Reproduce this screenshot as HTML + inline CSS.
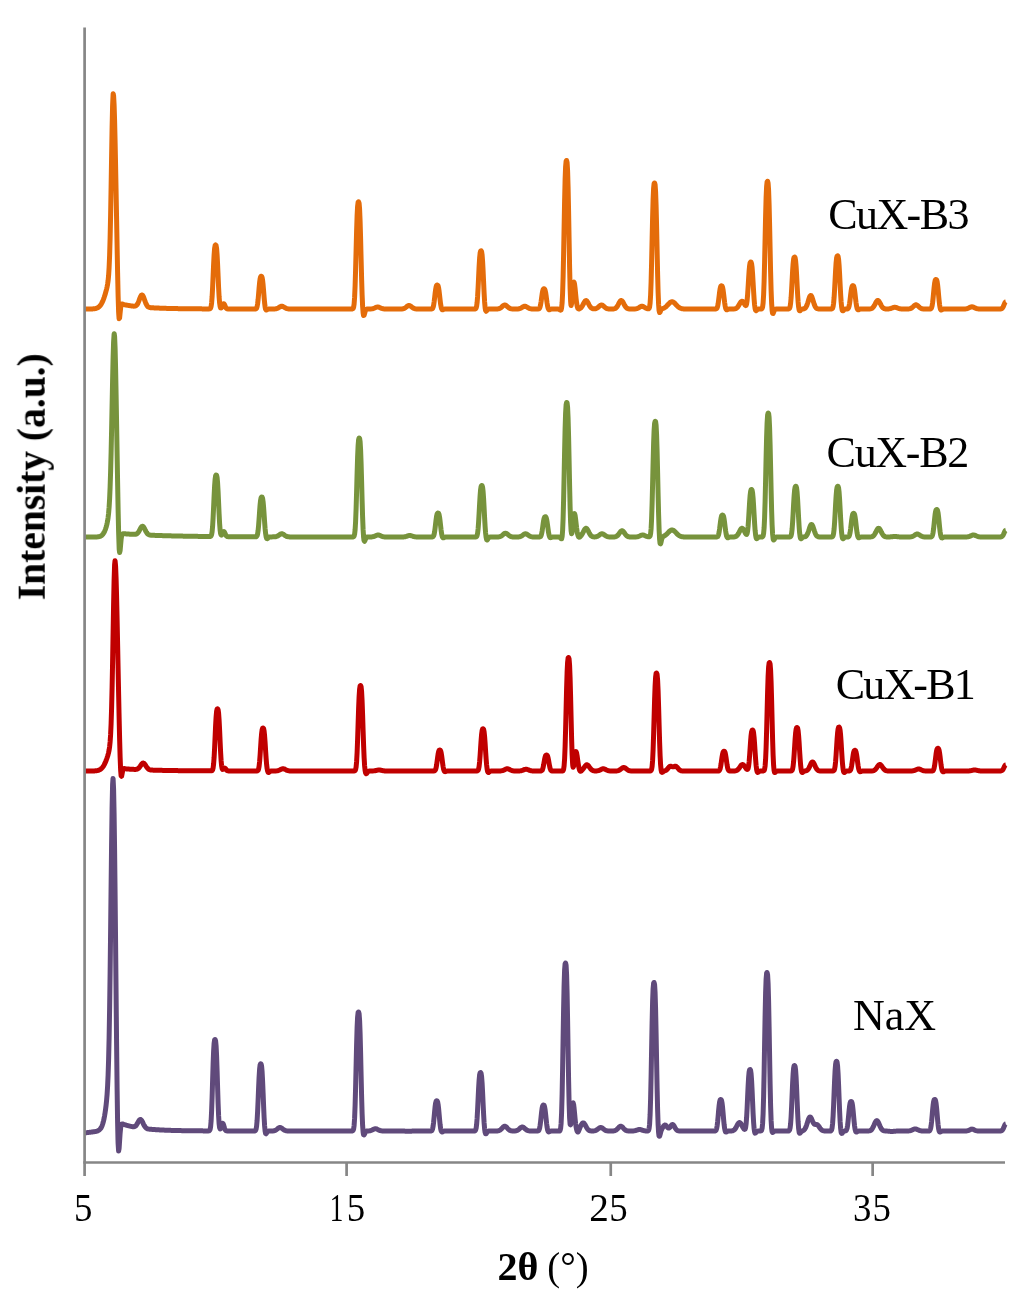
<!DOCTYPE html>
<html><head><meta charset="utf-8"><title>XRD patterns</title>
<style>html,body{margin:0;padding:0;background:#fff;overflow:hidden;}svg{display:block;} text{will-change:transform;}</style></head>
<body><svg width="1024" height="1299" viewBox="0 0 1024 1299">
<rect width="1024" height="1299" fill="#fff"/>
<path d="M84.6,309.00 L85.1,309.00 L85.6,309.00 L86.1,309.00 L86.6,309.00 L87.1,309.00 L87.6,309.00 L88.1,308.99 L88.6,308.99 L89.1,308.99 L89.6,308.98 L90.1,308.98 L90.6,308.97 L91.1,308.96 L91.6,308.95 L92.1,308.93 L92.6,308.90 L93.1,308.87 L93.6,308.83 L94.1,308.78 L94.6,308.71 L95.1,308.62 L95.6,308.52 L96.1,308.38 L96.6,308.22 L97.1,308.02 L97.6,307.78 L98.1,307.49 L98.6,307.14 L99.1,306.73 L99.6,306.25 L100.1,305.69 L100.6,305.04 L101.1,304.29 L101.6,303.44 L102.1,302.49 L102.6,301.43 L103.1,300.25 L103.6,298.96 L104.1,297.56 L104.6,296.05 L105.1,294.45 L105.6,292.75 L106.1,290.94 L106.6,289.01 L107.1,286.84 L107.6,284.22 L108.1,280.70 L108.6,275.55 L109.1,267.67 L109.6,255.73 L110.1,238.48 L110.6,215.36 L111.1,187.14 L111.6,156.40 L112.1,127.40 L112.6,105.24 L113.1,94.38 L113.2,93.75 L113.6,95.69 L114.1,104.95 L114.6,120.92 L115.1,142.01 L115.6,166.41 L116.1,192.56 L116.6,219.46 L117.1,246.54 L117.6,272.73 L118.1,295.57 L118.6,311.63 L118.8,314.73 L119.1,318.76 L119.6,317.97 L120.1,313.07 L120.6,308.16 L121.1,305.23 L121.6,304.12 L122.1,303.97 L122.6,304.13 L123.1,304.34 L123.6,304.51 L124.1,304.65 L124.6,304.77 L125.1,304.87 L125.6,304.97 L126.1,305.06 L126.6,305.15 L127.1,305.24 L127.6,305.32 L128.1,305.40 L128.6,305.49 L129.1,305.56 L129.6,305.64 L130.1,305.72 L130.6,305.79 L131.1,305.86 L131.6,305.93 L132.1,305.99 L132.6,306.05 L133.1,306.10 L133.6,306.13 L134.1,306.14 L134.6,306.11 L135.1,306.03 L135.6,305.86 L136.1,305.58 L136.6,305.16 L137.1,304.56 L137.6,303.78 L138.1,302.79 L138.6,301.63 L139.1,300.33 L139.6,298.97 L140.1,297.66 L140.6,296.51 L141.1,295.62 L141.6,295.11 L142.0,295.00 L142.1,295.02 L142.6,295.37 L143.1,296.13 L143.6,297.22 L144.1,298.54 L144.6,299.97 L145.1,301.40 L145.6,302.74 L146.1,303.93 L146.6,304.92 L147.1,305.72 L147.6,306.33 L148.1,306.78 L148.6,307.10 L149.1,307.33 L149.6,307.48 L150.1,307.58 L150.6,307.66 L151.1,307.71 L151.6,307.75 L152.1,307.79 L152.6,307.82 L153.1,307.84 L153.6,307.87 L154.1,307.90 L154.6,307.92 L155.1,307.95 L155.6,307.97 L156.1,307.99 L156.6,308.02 L157.1,308.04 L157.6,308.06 L158.1,308.08 L158.6,308.10 L159.1,308.12 L159.6,308.14 L160.1,308.16 L160.6,308.18 L161.1,308.20 L161.6,308.22 L162.1,308.23 L162.6,308.25 L163.1,308.27 L163.6,308.28 L164.1,308.30 L164.6,308.32 L165.1,308.33 L165.6,308.35 L166.1,308.36 L166.6,308.38 L167.1,308.39 L167.6,308.40 L168.1,308.42 L168.6,308.43 L169.1,308.44 L169.6,308.45 L170.1,308.47 L170.6,308.48 L171.1,308.49 L171.6,308.50 L172.1,308.51 L172.6,308.52 L173.1,308.53 L173.6,308.55 L174.1,308.56 L174.6,308.57 L175.1,308.58 L175.6,308.58 L176.1,308.59 L176.6,308.60 L177.1,308.61 L177.6,308.62 L178.1,308.63 L178.6,308.64 L179.1,308.65 L179.6,308.65 L180.1,308.66 L180.6,308.67 L181.1,308.68 L181.6,308.68 L182.1,308.69 L182.6,308.70 L183.1,308.70 L183.6,308.71 L184.1,308.72 L184.6,308.72 L185.1,308.73 L185.6,308.74 L186.1,308.74 L186.6,308.75 L187.1,308.75 L187.6,308.76 L188.1,308.76 L188.6,308.77 L189.1,308.78 L189.6,308.78 L190.1,308.79 L190.6,308.79 L191.1,308.79 L191.6,308.80 L192.1,308.80 L192.6,308.81 L193.1,308.81 L193.6,308.82 L194.1,308.82 L194.6,308.83 L195.1,308.83 L195.6,308.83 L196.1,308.84 L196.6,308.84 L197.1,308.84 L197.6,308.85 L198.1,308.85 L198.6,308.85 L199.1,308.86 L199.6,308.86 L200.1,308.86 L200.6,308.87 L201.1,308.87 L201.6,308.87 L202.1,308.88 L202.6,308.88 L203.1,308.88 L203.6,308.88 L204.1,308.89 L204.6,308.89 L205.1,308.89 L205.6,308.89 L206.1,308.90 L206.6,308.90 L207.1,308.90 L207.6,308.90 L208.1,308.91 L208.6,308.91 L209.1,308.90 L209.6,308.86 L210.1,308.68 L210.6,308.09 L211.1,306.50 L211.6,303.02 L212.1,296.78 L212.6,287.55 L213.1,276.20 L213.6,264.62 L214.1,254.92 L214.6,248.50 L215.1,245.55 L215.6,245.00 L216.1,245.55 L216.6,248.51 L217.1,254.93 L217.6,264.63 L218.1,276.22 L218.6,287.57 L219.1,296.80 L219.6,303.01 L220.1,306.41 L220.6,307.82 L221.1,308.01 L221.6,307.47 L222.1,306.48 L222.6,305.28 L223.1,304.23 L223.6,303.72 L223.7,303.70 L224.1,303.94 L224.6,304.82 L225.1,306.01 L225.6,307.15 L226.1,308.00 L226.6,308.52 L227.1,308.79 L227.6,308.90 L228.1,308.94 L228.6,308.96 L229.1,308.96 L229.6,308.96 L230.1,308.97 L230.6,308.97 L231.1,308.97 L231.6,308.97 L232.1,308.97 L232.6,308.97 L233.1,308.97 L233.6,308.97 L234.1,308.97 L234.6,308.97 L235.1,308.97 L235.6,308.97 L236.1,308.97 L236.6,308.97 L237.1,308.97 L237.6,308.98 L238.1,308.98 L238.6,308.98 L239.1,308.98 L239.6,308.98 L240.1,308.98 L240.6,308.98 L241.1,308.98 L241.6,308.98 L242.1,308.98 L242.6,308.98 L243.1,308.98 L243.6,308.98 L244.1,308.98 L244.6,308.98 L245.1,308.98 L245.6,308.98 L246.1,308.98 L246.6,308.98 L247.1,308.98 L247.6,308.98 L248.1,308.98 L248.6,308.98 L249.1,308.99 L249.6,308.99 L250.1,308.99 L250.6,308.99 L251.1,308.99 L251.6,308.99 L252.1,308.99 L252.6,308.99 L253.1,308.99 L253.6,308.99 L254.1,308.99 L254.6,308.99 L255.1,308.97 L255.6,308.91 L256.1,308.70 L256.6,308.08 L257.1,306.63 L257.6,303.90 L258.1,299.61 L258.6,294.04 L259.1,288.02 L259.6,282.67 L260.1,278.84 L260.6,276.82 L261.1,276.26 L261.2,276.25 L261.6,276.36 L262.1,277.44 L262.6,280.21 L263.1,284.84 L263.6,290.84 L264.1,297.21 L264.6,302.85 L265.1,306.92 L265.5,308.88 L265.6,309.20 L266.1,310.01 L266.6,309.95 L267.1,309.60 L267.6,309.29 L268.1,309.11 L268.6,309.03 L269.1,309.00 L269.6,309.00 L270.1,308.99 L270.6,308.99 L271.1,308.99 L271.6,308.99 L272.1,308.99 L272.6,308.99 L273.1,308.98 L273.6,308.97 L274.1,308.96 L274.6,308.93 L275.1,308.89 L275.6,308.83 L276.1,308.74 L276.6,308.61 L277.1,308.44 L277.6,308.23 L278.1,307.97 L278.6,307.68 L279.1,307.36 L279.6,307.05 L280.1,306.75 L280.6,306.51 L281.1,306.33 L281.6,306.25 L281.8,306.25 L282.1,306.27 L282.6,306.39 L283.1,306.60 L283.6,306.86 L284.1,307.17 L284.6,307.49 L285.1,307.80 L285.6,308.08 L286.1,308.32 L286.6,308.52 L287.1,308.67 L287.6,308.78 L288.1,308.86 L288.6,308.91 L289.1,308.95 L289.6,308.97 L290.1,308.98 L290.6,308.99 L291.1,308.99 L291.6,309.00 L292.1,309.00 L292.6,309.00 L293.1,309.00 L293.6,309.00 L294.1,309.00 L294.6,309.00 L295.1,309.00 L295.6,309.00 L296.1,309.00 L296.6,309.00 L297.1,309.00 L297.6,309.00 L298.1,309.00 L298.6,309.00 L299.1,309.00 L299.6,309.00 L300.1,309.00 L300.6,309.00 L301.1,309.00 L301.6,309.00 L302.1,309.00 L302.6,309.00 L303.1,309.00 L303.6,309.00 L304.1,309.00 L304.6,309.00 L305.1,309.00 L305.6,309.00 L306.1,309.00 L306.6,309.00 L307.1,309.00 L307.6,309.00 L308.1,309.00 L308.6,309.00 L309.1,309.00 L309.6,309.00 L310.1,309.00 L310.6,309.00 L311.1,309.00 L311.6,309.00 L312.1,309.00 L312.6,309.00 L313.1,309.00 L313.6,309.00 L314.1,309.00 L314.6,309.00 L315.1,309.00 L315.6,309.00 L316.1,309.00 L316.6,309.00 L317.1,309.00 L317.6,309.00 L318.1,309.00 L318.6,309.00 L319.1,309.00 L319.6,309.00 L320.1,309.00 L320.6,309.00 L321.1,309.00 L321.6,309.00 L322.1,309.00 L322.6,309.00 L323.1,309.00 L323.6,309.00 L324.1,309.00 L324.6,309.00 L325.1,309.00 L325.6,309.00 L326.1,309.00 L326.6,309.00 L327.1,309.00 L327.6,309.00 L328.1,309.00 L328.6,309.00 L329.1,309.00 L329.6,309.00 L330.1,309.00 L330.6,309.00 L331.1,309.00 L331.6,309.00 L332.1,309.00 L332.6,309.00 L333.1,309.00 L333.6,309.00 L334.1,309.00 L334.6,309.00 L335.1,309.00 L335.6,309.00 L336.1,309.00 L336.6,309.00 L337.1,309.00 L337.6,309.00 L338.1,309.00 L338.6,309.00 L339.1,309.00 L339.6,309.00 L340.1,309.00 L340.6,309.00 L341.1,309.00 L341.6,309.00 L342.1,309.00 L342.6,309.00 L343.1,309.00 L343.6,309.00 L344.1,309.00 L344.6,309.00 L345.1,309.00 L345.6,309.00 L346.1,309.00 L346.6,309.00 L347.1,309.00 L347.6,309.00 L348.1,309.00 L348.6,309.00 L349.1,309.00 L349.6,309.00 L350.1,309.00 L350.6,309.00 L351.1,309.00 L351.6,309.00 L352.1,308.98 L352.6,308.88 L353.1,308.49 L353.6,307.26 L354.1,304.08 L354.6,297.41 L355.1,285.93 L355.6,269.54 L356.1,250.14 L356.6,231.06 L357.1,215.76 L357.6,206.21 L358.1,202.26 L358.5,201.75 L358.6,201.76 L359.1,203.27 L359.6,209.31 L360.1,221.32 L360.6,238.65 L361.1,258.77 L361.6,278.32 L362.1,294.53 L362.6,306.05 L363.1,312.81 L363.5,315.24 L363.6,315.50 L364.1,315.28 L364.6,313.56 L365.1,311.63 L365.6,310.23 L366.1,309.47 L366.6,309.14 L367.1,309.04 L367.6,309.01 L368.1,309.00 L368.6,309.00 L369.1,308.99 L369.6,308.99 L370.1,308.97 L370.6,308.95 L371.1,308.92 L371.6,308.88 L372.1,308.81 L372.6,308.72 L373.1,308.60 L373.6,308.44 L374.1,308.25 L374.6,308.04 L375.1,307.81 L375.6,307.58 L376.1,307.36 L376.6,307.19 L377.1,307.06 L377.6,307.00 L377.8,307.00 L378.1,307.02 L378.6,307.10 L379.1,307.25 L379.6,307.45 L380.1,307.67 L380.6,307.90 L381.1,308.13 L381.6,308.33 L382.1,308.51 L382.6,308.65 L383.1,308.76 L383.6,308.84 L384.1,308.90 L384.6,308.94 L385.1,308.96 L385.6,308.98 L386.1,308.99 L386.6,308.99 L387.1,309.00 L387.6,309.00 L388.1,309.00 L388.6,309.00 L389.1,309.00 L389.6,309.00 L390.1,309.00 L390.6,309.00 L391.1,309.00 L391.6,309.00 L392.1,309.00 L392.6,309.00 L393.1,309.00 L393.6,309.00 L394.1,309.00 L394.6,309.00 L395.1,309.00 L395.6,309.00 L396.1,309.00 L396.6,309.00 L397.1,309.00 L397.6,309.00 L398.1,309.00 L398.6,309.00 L399.1,309.00 L399.6,308.99 L400.1,308.99 L400.6,308.98 L401.1,308.97 L401.6,308.94 L402.1,308.90 L402.6,308.83 L403.1,308.73 L403.6,308.60 L404.1,308.41 L404.6,308.16 L405.1,307.86 L405.6,307.51 L406.1,307.12 L406.6,306.71 L407.1,306.32 L407.6,305.97 L408.1,305.70 L408.6,305.54 L409.0,305.50 L409.1,305.50 L409.6,305.59 L410.1,305.80 L410.6,306.10 L411.1,306.47 L411.6,306.88 L412.1,307.28 L412.6,307.66 L413.1,307.99 L413.6,308.27 L414.1,308.49 L414.6,308.66 L415.1,308.78 L415.6,308.86 L416.1,308.92 L416.6,308.95 L417.1,308.97 L417.6,308.99 L418.1,308.99 L418.6,309.00 L419.1,309.00 L419.6,309.00 L420.1,309.00 L420.6,309.00 L421.1,309.00 L421.6,309.00 L422.1,309.00 L422.6,309.00 L423.1,309.00 L423.6,309.00 L424.1,309.00 L424.6,309.00 L425.1,309.00 L425.6,309.00 L426.1,309.00 L426.6,309.00 L427.1,309.00 L427.6,309.00 L428.1,309.00 L428.6,309.00 L429.1,309.00 L429.6,309.00 L430.1,309.00 L430.6,309.00 L431.1,308.99 L431.6,308.94 L432.1,308.78 L432.6,308.33 L433.1,307.27 L433.6,305.27 L434.1,302.12 L434.6,298.04 L435.1,293.63 L435.6,289.70 L436.1,286.90 L436.6,285.42 L437.1,285.01 L437.2,285.00 L437.6,285.08 L438.1,285.86 L438.6,287.87 L439.1,291.20 L439.6,295.48 L440.1,299.98 L440.6,303.98 L441.1,306.96 L441.6,308.80 L442.1,309.61 L442.1,309.66 L442.6,309.84 L443.1,309.67 L443.6,309.40 L444.1,309.19 L444.6,309.07 L445.1,309.02 L445.6,309.01 L446.1,309.00 L446.6,309.00 L447.1,309.00 L447.6,309.00 L448.1,309.00 L448.6,309.00 L449.1,309.00 L449.6,309.00 L450.1,309.00 L450.6,309.00 L451.1,309.00 L451.6,309.00 L452.1,309.00 L452.6,309.00 L453.1,309.00 L453.6,309.00 L454.1,309.00 L454.6,309.00 L455.1,309.00 L455.6,309.00 L456.1,309.00 L456.6,309.00 L457.1,309.00 L457.6,309.00 L458.1,309.00 L458.6,309.00 L459.1,309.00 L459.6,309.00 L460.1,309.00 L460.6,309.00 L461.1,309.00 L461.6,309.00 L462.1,309.00 L462.6,309.00 L463.1,309.00 L463.6,309.00 L464.1,309.00 L464.6,309.00 L465.1,309.00 L465.6,309.00 L466.1,309.00 L466.6,309.00 L467.1,309.00 L467.6,309.00 L468.1,309.00 L468.6,309.00 L469.1,309.00 L469.6,309.00 L470.1,309.00 L470.6,309.00 L471.1,309.00 L471.6,309.00 L472.1,309.00 L472.6,309.00 L473.1,309.00 L473.6,309.00 L474.1,309.00 L474.6,308.99 L475.1,308.94 L475.6,308.73 L476.1,308.06 L476.6,306.33 L477.1,302.71 L477.6,296.47 L478.1,287.57 L478.6,277.03 L479.1,266.67 L479.6,258.36 L480.1,253.17 L480.6,251.03 L481.0,250.75 L481.1,250.76 L481.6,251.58 L482.1,254.88 L482.6,261.45 L483.1,270.97 L483.6,282.08 L484.1,292.88 L484.6,301.67 L485.1,307.53 L485.5,310.10 L485.6,310.49 L486.1,311.26 L486.6,310.85 L487.1,310.11 L487.6,309.53 L488.1,309.20 L488.6,309.06 L489.1,309.02 L489.6,309.00 L490.1,309.00 L490.6,309.00 L491.1,309.00 L491.6,309.00 L492.1,309.00 L492.6,309.00 L493.1,309.00 L493.6,309.00 L494.1,309.00 L494.6,309.00 L495.1,309.00 L495.6,308.99 L496.1,308.98 L496.6,308.97 L497.1,308.95 L497.6,308.91 L498.1,308.85 L498.6,308.76 L499.1,308.62 L499.6,308.44 L500.1,308.19 L500.6,307.88 L501.1,307.51 L501.6,307.08 L502.1,306.62 L502.6,306.16 L503.1,305.73 L503.6,305.37 L504.1,305.12 L504.6,305.01 L504.8,305.00 L505.1,305.04 L505.6,305.21 L506.1,305.50 L506.6,305.89 L507.1,306.34 L507.6,306.81 L508.1,307.26 L508.6,307.66 L509.1,308.01 L509.6,308.30 L510.1,308.52 L510.6,308.68 L511.1,308.80 L511.6,308.88 L512.1,308.93 L512.6,308.96 L513.1,308.98 L513.6,308.99 L514.1,308.99 L514.6,309.00 L515.1,309.00 L515.6,308.99 L516.1,308.99 L516.6,308.98 L517.1,308.96 L517.6,308.94 L518.1,308.90 L518.6,308.83 L519.1,308.74 L519.6,308.61 L520.1,308.44 L520.6,308.23 L521.1,307.97 L521.6,307.68 L522.1,307.36 L522.6,307.05 L523.1,306.75 L523.6,306.51 L524.1,306.33 L524.6,306.25 L524.8,306.25 L525.1,306.27 L525.6,306.39 L526.1,306.60 L526.6,306.87 L527.1,307.17 L527.6,307.49 L528.1,307.80 L528.6,308.08 L529.1,308.32 L529.6,308.52 L530.1,308.67 L530.6,308.78 L531.1,308.86 L531.6,308.91 L532.1,308.95 L532.6,308.97 L533.1,308.98 L533.6,308.99 L534.1,309.00 L534.6,309.00 L535.1,309.00 L535.6,309.00 L536.1,309.00 L536.6,309.00 L537.1,309.00 L537.6,309.00 L538.1,308.98 L538.6,308.90 L539.1,308.67 L539.6,308.07 L540.1,306.81 L540.6,304.64 L541.1,301.55 L541.6,297.89 L542.1,294.28 L542.6,291.40 L543.1,289.59 L543.6,288.85 L544.0,288.75 L544.1,288.75 L544.6,289.04 L545.1,290.18 L545.6,292.45 L546.1,295.72 L546.6,299.51 L547.1,303.17 L547.6,306.15 L548.1,308.19 L548.6,309.31 L548.8,309.54 L549.1,309.71 L549.6,309.67 L550.1,309.46 L550.6,309.25 L551.1,309.11 L551.6,309.04 L552.1,309.01 L552.6,309.00 L553.1,309.00 L553.6,309.00 L554.1,309.00 L554.6,309.00 L555.1,309.00 L555.6,309.00 L556.1,309.00 L556.6,309.00 L557.1,309.00 L557.6,309.01 L558.1,309.05 L558.6,309.13 L559.1,309.33 L559.6,309.64 L560.1,310.01 L560.6,310.20 L561.0,309.93 L561.1,309.75 L561.6,307.85 L562.1,303.07 L562.6,293.46 L563.1,277.29 L563.6,254.46 L564.1,227.52 L564.6,201.09 L565.1,179.90 L565.6,166.67 L566.1,161.20 L566.5,160.50 L566.6,160.52 L567.1,162.61 L567.6,171.02 L568.1,187.75 L568.6,211.95 L569.1,240.03 L569.6,266.94 L570.1,288.09 L570.6,300.96 L570.9,304.59 L571.1,305.50 L571.6,303.63 L572.1,298.12 L572.6,291.59 L573.1,286.05 L573.6,282.75 L573.9,282.10 L574.1,282.24 L574.6,284.43 L575.1,288.59 L575.6,293.67 L576.1,298.64 L576.6,302.78 L577.1,305.80 L577.6,307.70 L577.9,308.38 L578.1,308.67 L578.6,309.01 L579.1,308.96 L579.6,308.74 L580.1,308.43 L580.6,308.06 L581.1,307.59 L581.6,307.00 L582.1,306.27 L582.6,305.43 L583.1,304.49 L583.6,303.51 L584.1,302.57 L584.6,301.73 L585.1,301.09 L585.6,300.70 L586.0,300.60 L586.1,300.61 L586.6,300.82 L587.1,301.32 L587.6,302.05 L588.1,302.94 L588.6,303.91 L589.1,304.87 L589.6,305.78 L590.1,306.58 L590.6,307.24 L591.1,307.77 L591.6,308.17 L592.1,308.46 L592.6,308.65 L593.1,308.78 L593.6,308.84 L594.1,308.86 L594.6,308.85 L595.1,308.79 L595.6,308.69 L596.1,308.53 L596.6,308.32 L597.1,308.04 L597.6,307.70 L598.1,307.30 L598.6,306.85 L599.1,306.39 L599.6,305.94 L600.1,305.54 L600.6,305.23 L601.1,305.05 L601.5,305.00 L601.6,305.00 L602.1,305.11 L602.6,305.34 L603.1,305.69 L603.6,306.11 L604.1,306.57 L604.6,307.03 L605.1,307.47 L605.6,307.85 L606.1,308.16 L606.6,308.42 L607.1,308.61 L607.6,308.74 L608.1,308.84 L608.6,308.90 L609.1,308.94 L609.6,308.97 L610.1,308.98 L610.6,308.99 L611.1,308.99 L611.6,308.99 L612.1,308.98 L612.6,308.97 L613.1,308.94 L613.6,308.89 L614.1,308.81 L614.6,308.68 L615.1,308.48 L615.6,308.20 L616.1,307.80 L616.6,307.28 L617.1,306.62 L617.6,305.83 L618.1,304.92 L618.6,303.94 L619.1,302.96 L619.6,302.05 L620.1,301.29 L620.6,300.76 L621.1,300.51 L621.2,300.50 L621.6,300.58 L622.1,300.94 L622.6,301.57 L623.1,302.40 L623.6,303.35 L624.1,304.34 L624.6,305.29 L625.1,306.16 L625.6,306.90 L626.1,307.51 L626.6,307.98 L627.1,308.32 L627.6,308.57 L628.1,308.74 L628.6,308.84 L629.1,308.91 L629.6,308.95 L630.1,308.97 L630.6,308.99 L631.1,308.99 L631.6,309.00 L632.1,309.00 L632.6,309.00 L633.1,308.99 L633.6,308.99 L634.1,308.97 L634.6,308.95 L635.1,308.92 L635.6,308.87 L636.1,308.79 L636.6,308.68 L637.1,308.53 L637.6,308.34 L638.1,308.11 L638.6,307.83 L639.1,307.52 L639.6,307.20 L640.1,306.89 L640.6,306.62 L641.1,306.41 L641.6,306.28 L642.0,306.25 L642.1,306.25 L642.6,306.32 L643.1,306.49 L643.6,306.72 L644.1,307.02 L644.6,307.33 L645.1,307.65 L645.6,307.95 L646.1,308.21 L646.6,308.43 L647.1,308.60 L647.6,308.73 L648.1,308.80 L648.6,308.75 L649.1,308.34 L649.6,306.92 L650.1,303.20 L650.6,295.38 L651.1,281.89 L651.6,262.64 L652.1,239.84 L652.6,217.44 L653.1,199.46 L653.6,188.24 L654.1,183.60 L654.5,183.00 L654.6,183.01 L655.1,184.79 L655.6,191.91 L656.1,206.09 L656.6,226.59 L657.1,250.42 L657.6,273.44 L658.1,292.04 L658.6,304.38 L659.0,309.84 L659.1,310.67 L659.6,312.52 L660.1,311.99 L660.6,310.76 L661.1,309.72 L661.6,309.10 L662.1,308.77 L662.6,308.57 L663.1,308.40 L663.6,308.20 L664.1,307.97 L664.6,307.69 L665.1,307.36 L665.6,306.98 L666.1,306.56 L666.6,306.09 L667.1,305.58 L667.6,305.04 L668.1,304.49 L668.6,303.95 L669.1,303.43 L669.6,302.94 L670.1,302.52 L670.6,302.18 L671.1,301.93 L671.6,301.79 L672.0,301.75 L672.1,301.75 L672.6,301.83 L673.1,302.02 L673.6,302.31 L674.1,302.68 L674.6,303.13 L675.1,303.63 L675.6,304.16 L676.1,304.71 L676.6,305.26 L677.1,305.78 L677.6,306.28 L678.1,306.73 L678.6,307.14 L679.1,307.50 L679.6,307.81 L680.1,308.07 L680.6,308.28 L681.1,308.45 L681.6,308.59 L682.1,308.70 L682.6,308.78 L683.1,308.85 L683.6,308.89 L684.1,308.93 L684.6,308.95 L685.1,308.97 L685.6,308.98 L686.1,308.99 L686.6,308.99 L687.1,308.99 L687.6,309.00 L688.1,309.00 L688.6,309.00 L689.1,309.00 L689.6,309.00 L690.1,309.00 L690.6,309.00 L691.1,309.00 L691.6,309.00 L692.1,309.00 L692.6,309.00 L693.1,309.00 L693.6,309.00 L694.1,309.00 L694.6,309.00 L695.1,309.00 L695.6,309.00 L696.1,309.00 L696.6,309.00 L697.1,309.00 L697.6,309.00 L698.1,309.00 L698.6,309.00 L699.1,309.00 L699.6,309.00 L700.1,309.00 L700.6,309.00 L701.1,309.00 L701.6,309.00 L702.1,309.00 L702.6,309.00 L703.1,309.00 L703.6,309.00 L704.1,309.00 L704.6,309.00 L705.1,309.00 L705.6,309.00 L706.1,309.00 L706.6,309.00 L707.1,309.00 L707.6,309.00 L708.1,309.00 L708.6,309.00 L709.1,309.00 L709.6,309.00 L710.1,309.00 L710.6,309.00 L711.1,309.00 L711.6,309.00 L712.1,309.00 L712.6,309.00 L713.1,309.00 L713.6,309.00 L714.1,309.00 L714.6,309.00 L715.1,309.00 L715.6,308.97 L716.1,308.89 L716.6,308.62 L717.1,307.93 L717.6,306.49 L718.1,304.00 L718.6,300.45 L719.1,296.24 L719.6,292.10 L720.1,288.79 L720.6,286.72 L721.1,285.86 L721.5,285.75 L721.6,285.75 L722.1,286.08 L722.6,287.39 L723.1,289.99 L723.6,293.75 L724.1,298.11 L724.6,302.31 L725.1,305.73 L725.6,308.07 L726.1,309.35 L726.3,309.62 L726.6,309.81 L727.1,309.77 L727.6,309.53 L728.1,309.28 L728.6,309.12 L729.1,309.04 L729.6,309.01 L730.1,309.00 L730.6,309.00 L731.1,309.00 L731.6,309.00 L732.1,308.99 L732.6,308.99 L733.1,308.98 L733.6,308.96 L734.1,308.92 L734.6,308.87 L735.1,308.77 L735.6,308.63 L736.1,308.41 L736.6,308.10 L737.1,307.69 L737.6,307.15 L738.1,306.48 L738.6,305.70 L739.1,304.84 L739.6,303.94 L740.1,303.07 L740.6,302.30 L741.1,301.70 L741.6,301.34 L742.0,301.25 L742.1,301.26 L742.6,301.45 L743.1,301.91 L743.6,302.59 L744.1,303.40 L744.6,304.28 L745.1,305.08 L745.6,305.61 L746.1,305.45 L746.6,304.00 L747.1,300.56 L747.6,294.78 L748.1,287.06 L748.6,278.61 L749.1,271.05 L749.6,265.63 L750.1,262.79 L750.6,262.01 L750.8,262.00 L751.1,262.17 L751.6,263.70 L752.1,267.64 L752.6,274.16 L753.1,282.53 L753.6,291.36 L754.1,299.17 L754.6,305.01 L755.1,308.62 L755.5,310.20 L755.6,310.30 L756.1,310.65 L756.6,310.30 L757.1,309.79 L757.6,309.38 L758.1,309.15 L758.6,309.05 L759.1,309.01 L759.6,309.00 L760.1,309.00 L760.6,309.00 L761.1,308.97 L761.6,308.86 L762.1,308.40 L762.6,306.93 L763.1,303.14 L763.6,295.20 L764.1,281.52 L764.6,262.00 L765.1,238.88 L765.6,216.17 L766.1,197.94 L766.6,186.56 L767.1,181.86 L767.5,181.25 L767.6,181.26 L768.1,183.05 L768.6,190.25 L769.1,204.53 L769.6,225.10 L770.1,248.85 L770.6,271.68 L771.1,290.24 L771.6,303.02 L772.1,310.31 L772.5,312.98 L772.6,313.31 L773.1,313.50 L773.6,312.34 L774.1,310.94 L774.6,309.91 L775.1,309.34 L775.6,309.11 L776.1,309.03 L776.6,309.01 L777.1,309.00 L777.6,309.00 L778.1,309.00 L778.6,309.00 L779.1,309.00 L779.6,309.00 L780.1,309.00 L780.6,309.00 L781.1,309.00 L781.6,309.00 L782.1,309.00 L782.6,309.00 L783.1,309.00 L783.6,309.00 L784.1,309.00 L784.6,309.00 L785.1,309.00 L785.6,309.00 L786.1,309.00 L786.6,309.00 L787.1,309.00 L787.6,309.00 L788.1,308.99 L788.6,308.94 L789.1,308.76 L789.6,308.16 L790.1,306.62 L790.6,303.38 L791.1,297.81 L791.6,289.87 L792.1,280.46 L792.6,271.21 L793.1,263.79 L793.6,259.16 L794.1,257.25 L794.5,257.00 L794.6,257.01 L795.1,257.74 L795.6,260.67 L796.1,266.49 L796.6,274.90 L797.1,284.64 L797.6,294.03 L798.1,301.69 L798.6,306.92 L799.1,309.79 L799.3,310.38 L799.6,310.82 L800.1,310.73 L800.6,310.18 L801.1,309.63 L801.6,309.26 L802.1,309.08 L802.6,308.98 L803.1,308.92 L803.6,308.84 L804.1,308.71 L804.6,308.49 L805.1,308.15 L805.6,307.65 L806.1,306.93 L806.6,305.97 L807.1,304.75 L807.6,303.29 L808.1,301.66 L808.6,299.96 L809.1,298.34 L809.6,296.96 L810.1,295.99 L810.6,295.53 L810.8,295.50 L811.1,295.64 L811.6,296.32 L812.1,297.48 L812.6,298.97 L813.1,300.64 L813.6,302.33 L814.1,303.90 L814.6,305.27 L815.1,306.39 L815.6,307.25 L816.1,307.87 L816.6,308.31 L817.1,308.59 L817.6,308.77 L818.1,308.88 L818.6,308.94 L819.1,308.97 L819.6,308.98 L820.1,308.99 L820.6,309.00 L821.1,309.00 L821.6,309.00 L822.1,309.00 L822.6,309.00 L823.1,309.00 L823.6,309.00 L824.1,309.00 L824.6,309.00 L825.1,309.00 L825.6,309.00 L826.1,309.00 L826.6,309.00 L827.1,309.00 L827.6,309.00 L828.1,309.00 L828.6,309.00 L829.1,309.00 L829.6,309.00 L830.1,309.00 L830.6,309.00 L831.1,308.99 L831.6,308.94 L832.1,308.75 L832.6,308.14 L833.1,306.56 L833.6,303.25 L834.1,297.54 L834.6,289.41 L835.1,279.77 L835.6,270.30 L836.1,262.71 L836.6,257.96 L837.1,256.00 L837.5,255.75 L837.6,255.76 L838.1,256.50 L838.6,259.51 L839.1,265.47 L839.6,274.08 L840.1,284.05 L840.6,293.67 L841.1,301.51 L841.6,306.87 L842.1,309.81 L842.3,310.42 L842.6,310.86 L843.1,310.77 L843.6,310.21 L844.1,309.65 L844.6,309.28 L845.1,309.10 L845.6,309.03 L846.1,309.01 L846.6,308.99 L847.1,308.96 L847.6,308.86 L848.1,308.53 L848.6,307.71 L849.1,306.06 L849.6,303.33 L850.1,299.58 L850.6,295.29 L851.1,291.24 L851.6,288.13 L852.1,286.31 L852.6,285.65 L852.9,285.60 L853.1,285.62 L853.6,286.10 L854.1,287.67 L854.6,290.55 L855.1,294.50 L855.6,298.91 L856.1,303.02 L856.6,306.26 L857.1,308.38 L857.6,309.48 L857.7,309.60 L858.1,309.82 L858.6,309.72 L859.1,309.47 L859.6,309.24 L860.1,309.10 L860.6,309.03 L861.1,309.01 L861.6,309.00 L862.1,309.00 L862.6,309.00 L863.1,309.00 L863.6,309.00 L864.1,309.00 L864.6,309.00 L865.1,309.00 L865.6,309.00 L866.1,309.00 L866.6,309.00 L867.1,309.00 L867.6,309.00 L868.1,308.99 L868.6,308.98 L869.1,308.97 L869.6,308.94 L870.1,308.89 L870.6,308.82 L871.1,308.69 L871.6,308.50 L872.1,308.23 L872.6,307.85 L873.1,307.34 L873.6,306.69 L874.1,305.91 L874.6,305.01 L875.1,304.04 L875.6,303.06 L876.1,302.14 L876.6,301.36 L877.1,300.80 L877.6,300.53 L877.8,300.50 L878.1,300.56 L878.6,300.89 L879.1,301.50 L879.6,302.31 L880.1,303.25 L880.6,304.24 L881.1,305.20 L881.6,306.08 L882.1,306.83 L882.6,307.45 L883.1,307.94 L883.6,308.29 L884.1,308.55 L884.6,308.72 L885.1,308.83 L885.6,308.90 L886.1,308.94 L886.6,308.96 L887.1,308.96 L887.6,308.96 L888.1,308.94 L888.6,308.90 L889.1,308.85 L889.6,308.77 L890.1,308.67 L890.6,308.54 L891.1,308.38 L891.6,308.20 L892.1,308.01 L892.6,307.81 L893.1,307.63 L893.6,307.47 L894.1,307.36 L894.6,307.31 L894.8,307.30 L895.1,307.31 L895.6,307.38 L896.1,307.50 L896.6,307.66 L897.1,307.85 L897.6,308.05 L898.1,308.24 L898.6,308.42 L899.1,308.57 L899.6,308.69 L900.1,308.79 L900.6,308.86 L901.1,308.91 L901.6,308.94 L902.1,308.97 L902.6,308.98 L903.1,308.99 L903.6,308.99 L904.1,309.00 L904.6,309.00 L905.1,309.00 L905.6,309.00 L906.1,309.00 L906.6,308.99 L907.1,308.99 L907.6,308.98 L908.1,308.96 L908.6,308.93 L909.1,308.88 L909.6,308.80 L910.1,308.68 L910.6,308.51 L911.1,308.29 L911.6,308.00 L912.1,307.64 L912.6,307.21 L913.1,306.75 L913.6,306.26 L914.1,305.78 L914.6,305.37 L915.1,305.04 L915.6,304.85 L916.0,304.80 L916.1,304.80 L916.6,304.91 L917.1,305.16 L917.6,305.52 L918.1,305.97 L918.6,306.45 L919.1,306.94 L919.6,307.39 L920.1,307.79 L920.6,308.12 L921.1,308.39 L921.6,308.59 L922.1,308.73 L922.6,308.83 L923.1,308.90 L923.6,308.94 L924.1,308.97 L924.6,308.98 L925.1,308.99 L925.6,309.00 L926.1,309.00 L926.6,309.00 L927.1,309.00 L927.6,309.00 L928.1,309.00 L928.6,309.00 L929.1,309.00 L929.6,308.99 L930.1,308.97 L930.6,308.86 L931.1,308.52 L931.6,307.64 L932.1,305.80 L932.6,302.63 L933.1,298.11 L933.6,292.75 L934.1,287.49 L934.6,283.27 L935.1,280.63 L935.6,279.54 L936.0,279.40 L936.1,279.40 L936.6,279.82 L937.1,281.49 L937.6,284.80 L938.1,289.59 L938.6,295.13 L939.1,300.48 L939.6,304.84 L940.1,307.82 L940.6,309.45 L940.8,309.79 L941.1,310.04 L941.6,309.98 L942.1,309.67 L942.6,309.36 L943.1,309.16 L943.6,309.05 L944.1,309.02 L944.6,309.00 L945.1,309.00 L945.6,309.00 L946.1,309.00 L946.6,309.00 L947.1,309.00 L947.6,309.00 L948.1,309.00 L948.6,309.00 L949.1,309.00 L949.6,309.00 L950.1,309.00 L950.6,309.00 L951.1,309.00 L951.6,309.00 L952.1,309.00 L952.6,309.00 L953.1,309.00 L953.6,309.00 L954.1,309.00 L954.6,309.00 L955.1,309.00 L955.6,309.00 L956.1,309.00 L956.6,309.00 L957.1,309.00 L957.6,309.00 L958.1,309.00 L958.6,309.00 L959.1,309.00 L959.6,309.00 L960.1,309.00 L960.6,309.00 L961.1,309.00 L961.6,309.00 L962.1,309.00 L962.6,309.00 L963.1,308.99 L963.6,308.99 L964.1,308.98 L964.6,308.96 L965.1,308.93 L965.6,308.89 L966.1,308.83 L966.6,308.75 L967.1,308.63 L967.6,308.47 L968.1,308.29 L968.6,308.06 L969.1,307.82 L969.6,307.56 L970.1,307.32 L970.6,307.10 L971.1,306.93 L971.6,306.83 L972.0,306.80 L972.1,306.80 L972.6,306.86 L973.1,306.99 L973.6,307.18 L974.1,307.41 L974.6,307.67 L975.1,307.92 L975.6,308.16 L976.1,308.37 L976.6,308.54 L977.1,308.68 L977.6,308.78 L978.1,308.86 L978.6,308.91 L979.1,308.95 L979.6,308.97 L980.1,308.98 L980.6,308.99 L981.1,309.00 L981.6,309.00 L982.1,309.00 L982.6,309.00 L983.1,309.00 L983.6,309.00 L984.1,309.00 L984.6,309.00 L985.1,309.00 L985.6,309.00 L986.1,309.00 L986.6,309.00 L987.1,309.00 L987.6,309.00 L988.1,309.00 L988.6,309.00 L989.1,309.00 L989.6,309.00 L990.1,309.00 L990.6,309.00 L991.1,309.00 L991.6,309.00 L992.1,309.00 L992.6,309.00 L993.1,309.00 L993.6,309.00 L994.1,309.00 L994.6,309.00 L995.1,309.00 L995.6,309.00 L996.1,309.00 L996.6,309.00 L997.1,309.00 L997.6,309.00 L998.1,309.00 L998.6,309.00 L999.1,309.00 L999.6,308.99 L1000.1,308.97 L1000.6,308.93 L1001.1,308.84 L1001.6,308.66 L1002.1,308.33 L1002.6,307.78 L1003.1,306.96 L1003.6,305.88 L1004.1,304.63 L1004.6,303.39 L1005.1,302.39 L1005.6,301.85 L1005.8,301.80" fill="none" stroke="#E46C0A" stroke-width="5.0" stroke-linejoin="round" stroke-linecap="butt"/>
<path d="M84.6,537.00 L85.1,537.00 L85.6,537.00 L86.1,537.00 L86.6,537.00 L87.1,537.00 L87.6,537.00 L88.1,537.00 L88.6,537.00 L89.1,537.00 L89.6,537.00 L90.1,537.00 L90.6,537.00 L91.1,537.00 L91.6,537.00 L92.1,537.00 L92.6,537.00 L93.1,537.00 L93.6,536.99 L94.1,536.99 L94.6,536.98 L95.1,536.98 L95.6,536.97 L96.1,536.95 L96.6,536.93 L97.1,536.90 L97.6,536.86 L98.1,536.80 L98.6,536.73 L99.1,536.63 L99.6,536.50 L100.1,536.33 L100.6,536.12 L101.1,535.85 L101.6,535.51 L102.1,535.09 L102.6,534.58 L103.1,533.96 L103.6,533.21 L104.1,532.34 L104.6,531.31 L105.1,530.13 L105.6,528.77 L106.1,527.22 L106.6,525.43 L107.1,523.33 L107.6,520.78 L108.1,517.54 L108.6,513.21 L109.1,507.24 L109.6,498.90 L110.1,487.43 L110.6,472.17 L111.1,452.89 L111.6,430.04 L112.1,404.96 L112.6,379.95 L113.1,357.91 L113.6,341.85 L114.1,334.19 L114.2,333.75 L114.6,336.31 L115.1,348.39 L115.6,368.74 L116.1,394.74 L116.6,423.65 L117.1,453.32 L117.6,482.32 L118.1,509.23 L118.6,531.66 L119.1,546.63 L119.2,549.35 L119.6,552.51 L120.1,550.68 L120.6,545.03 L121.1,539.50 L121.6,535.99 L122.1,534.37 L122.6,533.82 L123.1,533.71 L123.6,533.72 L124.1,533.76 L124.6,533.80 L125.1,533.84 L125.6,533.87 L126.1,533.91 L126.6,533.94 L127.1,533.98 L127.6,534.01 L128.1,534.04 L128.6,534.08 L129.1,534.11 L129.6,534.14 L130.1,534.17 L130.6,534.20 L131.1,534.23 L131.6,534.26 L132.1,534.29 L132.6,534.32 L133.1,534.34 L133.6,534.36 L134.1,534.37 L134.6,534.36 L135.1,534.32 L135.6,534.24 L136.1,534.11 L136.6,533.90 L137.1,533.58 L137.6,533.15 L138.1,532.58 L138.6,531.87 L139.1,531.03 L139.6,530.09 L140.1,529.12 L140.6,528.17 L141.1,527.34 L141.6,526.71 L142.1,526.33 L142.5,526.25 L142.6,526.26 L143.1,526.50 L143.6,527.04 L144.1,527.81 L144.6,528.74 L145.1,529.76 L145.6,530.77 L146.1,531.72 L146.6,532.56 L147.1,533.26 L147.6,533.83 L148.1,534.26 L148.6,534.58 L149.1,534.80 L149.6,534.96 L150.1,535.07 L150.6,535.14 L151.1,535.19 L151.6,535.23 L152.1,535.26 L152.6,535.28 L153.1,535.30 L153.6,535.32 L154.1,535.34 L154.6,535.36 L155.1,535.38 L155.6,535.39 L156.1,535.41 L156.6,535.43 L157.1,535.45 L157.6,535.46 L158.1,535.48 L158.6,535.50 L159.1,535.52 L159.6,535.53 L160.1,535.55 L160.6,535.56 L161.1,535.58 L161.6,535.60 L162.1,535.61 L162.6,535.63 L163.1,535.64 L163.6,535.66 L164.1,535.67 L164.6,535.69 L165.1,535.70 L165.6,535.71 L166.1,535.73 L166.6,535.74 L167.1,535.76 L167.6,535.77 L168.1,535.78 L168.6,535.80 L169.1,535.81 L169.6,535.82 L170.1,535.84 L170.6,535.85 L171.1,535.86 L171.6,535.88 L172.1,535.89 L172.6,535.90 L173.1,535.91 L173.6,535.92 L174.1,535.94 L174.6,535.95 L175.1,535.96 L175.6,535.97 L176.1,535.98 L176.6,535.99 L177.1,536.00 L177.6,536.02 L178.1,536.03 L178.6,536.04 L179.1,536.05 L179.6,536.06 L180.1,536.07 L180.6,536.08 L181.1,536.09 L181.6,536.10 L182.1,536.11 L182.6,536.12 L183.1,536.13 L183.6,536.14 L184.1,536.15 L184.6,536.16 L185.1,536.17 L185.6,536.18 L186.1,536.19 L186.6,536.19 L187.1,536.20 L187.6,536.21 L188.1,536.22 L188.6,536.23 L189.1,536.24 L189.6,536.25 L190.1,536.25 L190.6,536.26 L191.1,536.27 L191.6,536.28 L192.1,536.29 L192.6,536.29 L193.1,536.30 L193.6,536.31 L194.1,536.32 L194.6,536.33 L195.1,536.33 L195.6,536.34 L196.1,536.35 L196.6,536.35 L197.1,536.36 L197.6,536.37 L198.1,536.38 L198.6,536.38 L199.1,536.39 L199.6,536.40 L200.1,536.40 L200.6,536.41 L201.1,536.42 L201.6,536.42 L202.1,536.43 L202.6,536.44 L203.1,536.44 L203.6,536.45 L204.1,536.45 L204.6,536.46 L205.1,536.47 L205.6,536.47 L206.1,536.48 L206.6,536.48 L207.1,536.49 L207.6,536.49 L208.1,536.50 L208.6,536.51 L209.1,536.51 L209.6,536.51 L210.1,536.49 L210.6,536.36 L211.1,535.91 L211.6,534.63 L212.1,531.72 L212.6,526.30 L213.1,517.95 L213.6,507.31 L214.1,496.03 L214.6,486.19 L215.1,479.32 L215.6,475.86 L216.1,475.01 L216.2,475.00 L216.6,475.30 L217.1,477.57 L217.6,483.06 L218.1,491.85 L218.6,502.80 L219.1,513.95 L219.6,523.34 L220.1,529.88 L220.6,533.55 L221.1,535.04 L221.6,535.13 L222.1,534.42 L222.6,533.33 L223.1,532.27 L223.6,531.66 L223.8,531.60 L224.1,531.74 L224.6,532.48 L225.1,533.60 L225.6,534.73 L226.1,535.61 L226.6,536.17 L227.1,536.47 L227.6,536.61 L228.1,536.66 L228.6,536.68 L229.1,536.69 L229.6,536.69 L230.1,536.69 L230.6,536.70 L231.1,536.70 L231.6,536.70 L232.1,536.71 L232.6,536.71 L233.1,536.71 L233.6,536.72 L234.1,536.72 L234.6,536.72 L235.1,536.73 L235.6,536.73 L236.1,536.73 L236.6,536.73 L237.1,536.74 L237.6,536.74 L238.1,536.74 L238.6,536.75 L239.1,536.75 L239.6,536.75 L240.1,536.75 L240.6,536.76 L241.1,536.76 L241.6,536.76 L242.1,536.77 L242.6,536.77 L243.1,536.77 L243.6,536.77 L244.1,536.78 L244.6,536.78 L245.1,536.78 L245.6,536.78 L246.1,536.79 L246.6,536.79 L247.1,536.79 L247.6,536.79 L248.1,536.79 L248.6,536.80 L249.1,536.80 L249.6,536.80 L250.1,536.80 L250.6,536.81 L251.1,536.81 L251.6,536.81 L252.1,536.81 L252.6,536.81 L253.1,536.82 L253.6,536.82 L254.1,536.82 L254.6,536.82 L255.1,536.82 L255.6,536.81 L256.1,536.73 L256.6,536.47 L257.1,535.72 L257.6,533.97 L258.1,530.64 L258.6,525.42 L259.1,518.64 L259.6,511.32 L260.1,504.80 L260.6,500.14 L261.1,497.69 L261.6,497.01 L261.8,497.00 L262.1,497.13 L262.6,498.43 L263.1,501.76 L263.6,507.28 L264.1,514.37 L264.6,521.84 L265.1,528.47 L265.6,533.49 L266.1,536.71 L266.6,538.33 L266.8,538.56 L267.1,538.75 L267.6,538.45 L268.1,537.90 L268.6,537.41 L269.1,537.10 L269.6,536.95 L270.1,536.90 L270.6,536.88 L271.1,536.88 L271.6,536.88 L272.1,536.88 L272.6,536.87 L273.1,536.87 L273.6,536.86 L274.1,536.84 L274.6,536.81 L275.1,536.77 L275.6,536.70 L276.1,536.59 L276.6,536.45 L277.1,536.26 L277.6,536.01 L278.1,535.72 L278.6,535.38 L279.1,535.02 L279.6,534.66 L280.1,534.32 L280.6,534.04 L281.1,533.85 L281.6,533.75 L281.8,533.75 L282.1,533.78 L282.6,533.92 L283.1,534.15 L283.6,534.46 L284.1,534.81 L284.6,535.18 L285.1,535.54 L285.6,535.86 L286.1,536.13 L286.6,536.36 L287.1,536.53 L287.6,536.66 L288.1,536.76 L288.6,536.82 L289.1,536.86 L289.6,536.89 L290.1,536.90 L290.6,536.91 L291.1,536.92 L291.6,536.92 L292.1,536.92 L292.6,536.92 L293.1,536.92 L293.6,536.93 L294.1,536.93 L294.6,536.93 L295.1,536.93 L295.6,536.93 L296.1,536.93 L296.6,536.93 L297.1,536.93 L297.6,536.93 L298.1,536.93 L298.6,536.93 L299.1,536.93 L299.6,536.93 L300.1,536.94 L300.6,536.94 L301.1,536.94 L301.6,536.94 L302.1,536.94 L302.6,536.94 L303.1,536.94 L303.6,536.94 L304.1,536.94 L304.6,536.94 L305.1,536.94 L305.6,536.94 L306.1,536.94 L306.6,536.94 L307.1,536.94 L307.6,536.95 L308.1,536.95 L308.6,536.95 L309.1,536.95 L309.6,536.95 L310.1,536.95 L310.6,536.95 L311.1,536.95 L311.6,536.95 L312.1,536.95 L312.6,536.95 L313.1,536.95 L313.6,536.95 L314.1,536.95 L314.6,536.95 L315.1,536.95 L315.6,536.95 L316.1,536.95 L316.6,536.96 L317.1,536.96 L317.6,536.96 L318.1,536.96 L318.6,536.96 L319.1,536.96 L319.6,536.96 L320.1,536.96 L320.6,536.96 L321.1,536.96 L321.6,536.96 L322.1,536.96 L322.6,536.96 L323.1,536.96 L323.6,536.96 L324.1,536.96 L324.6,536.96 L325.1,536.96 L325.6,536.96 L326.1,536.96 L326.6,536.96 L327.1,536.96 L327.6,536.96 L328.1,536.97 L328.6,536.97 L329.1,536.97 L329.6,536.97 L330.1,536.97 L330.6,536.97 L331.1,536.97 L331.6,536.97 L332.1,536.97 L332.6,536.97 L333.1,536.97 L333.6,536.97 L334.1,536.97 L334.6,536.97 L335.1,536.97 L335.6,536.97 L336.1,536.97 L336.6,536.97 L337.1,536.97 L337.6,536.97 L338.1,536.97 L338.6,536.97 L339.1,536.97 L339.6,536.97 L340.1,536.97 L340.6,536.97 L341.1,536.97 L341.6,536.97 L342.1,536.97 L342.6,536.97 L343.1,536.98 L343.6,536.98 L344.1,536.98 L344.6,536.98 L345.1,536.98 L345.6,536.98 L346.1,536.98 L346.6,536.98 L347.1,536.98 L347.6,536.98 L348.1,536.98 L348.6,536.98 L349.1,536.98 L349.6,536.98 L350.1,536.98 L350.6,536.98 L351.1,536.98 L351.6,536.98 L352.1,536.98 L352.6,536.97 L353.1,536.93 L353.6,536.75 L354.1,536.09 L354.6,534.22 L355.1,529.86 L355.6,521.59 L356.1,508.63 L356.6,491.79 L357.1,473.60 L357.6,457.40 L358.1,445.82 L358.6,439.73 L359.1,438.03 L359.2,438.00 L359.6,438.33 L360.1,441.55 L360.6,449.84 L361.1,463.61 L361.6,481.34 L362.1,500.12 L362.6,516.85 L363.1,529.43 L363.6,537.22 L364.0,540.32 L364.1,540.74 L364.6,541.26 L365.1,540.24 L365.6,538.90 L366.1,537.88 L366.6,537.33 L367.1,537.09 L367.6,537.01 L368.1,536.99 L368.6,536.98 L369.1,536.98 L369.6,536.98 L370.1,536.97 L370.6,536.95 L371.1,536.93 L371.6,536.89 L372.1,536.84 L372.6,536.76 L373.1,536.65 L373.6,536.51 L374.1,536.34 L374.6,536.14 L375.1,535.92 L375.6,535.69 L376.1,535.47 L376.6,535.27 L377.1,535.12 L377.6,535.02 L378.0,535.00 L378.1,535.00 L378.6,535.05 L379.1,535.17 L379.6,535.34 L380.1,535.55 L380.6,535.78 L381.1,536.01 L381.6,536.23 L382.1,536.42 L382.6,536.57 L383.1,536.70 L383.6,536.79 L384.1,536.86 L384.6,536.91 L385.1,536.94 L385.6,536.96 L386.1,536.97 L386.6,536.98 L387.1,536.99 L387.6,536.99 L388.1,536.99 L388.6,536.99 L389.1,536.99 L389.6,536.99 L390.1,536.99 L390.6,536.99 L391.1,536.99 L391.6,536.99 L392.1,536.99 L392.6,536.99 L393.1,536.99 L393.6,536.99 L394.1,536.99 L394.6,536.99 L395.1,536.99 L395.6,536.99 L396.1,536.99 L396.6,536.99 L397.1,536.99 L397.6,536.99 L398.1,536.99 L398.6,536.99 L399.1,536.99 L399.6,536.99 L400.1,536.99 L400.6,536.99 L401.1,536.99 L401.6,536.98 L402.1,536.97 L402.6,536.96 L403.1,536.94 L403.6,536.90 L404.1,536.85 L404.6,536.78 L405.1,536.69 L405.6,536.58 L406.1,536.44 L406.6,536.28 L407.1,536.11 L407.6,535.93 L408.1,535.77 L408.6,535.64 L409.1,535.55 L409.6,535.50 L409.8,535.50 L410.1,535.51 L410.6,535.58 L411.1,535.69 L411.6,535.83 L412.1,536.00 L412.6,536.18 L413.1,536.34 L413.6,536.50 L414.1,536.63 L414.6,536.73 L415.1,536.82 L415.6,536.88 L416.1,536.92 L416.6,536.95 L417.1,536.97 L417.6,536.98 L418.1,536.99 L418.6,536.99 L419.1,536.99 L419.6,536.99 L420.1,536.99 L420.6,537.00 L421.1,537.00 L421.6,537.00 L422.1,537.00 L422.6,537.00 L423.1,537.00 L423.6,537.00 L424.1,537.00 L424.6,537.00 L425.1,537.00 L425.6,537.00 L426.1,537.00 L426.6,537.00 L427.1,537.00 L427.6,537.00 L428.1,537.00 L428.6,537.00 L429.1,537.00 L429.6,537.00 L430.1,537.00 L430.6,537.00 L431.1,537.00 L431.6,536.99 L432.1,536.97 L432.6,536.88 L433.1,536.61 L433.6,535.90 L434.1,534.40 L434.6,531.83 L435.1,528.17 L435.6,523.83 L436.1,519.56 L436.6,516.13 L437.1,514.00 L437.6,513.11 L438.0,513.00 L438.1,513.00 L438.6,513.34 L439.1,514.69 L439.6,517.38 L440.1,521.26 L440.6,525.75 L441.1,530.09 L441.6,533.62 L442.1,536.04 L442.6,537.36 L442.8,537.64 L443.1,537.84 L443.6,537.80 L444.1,537.54 L444.6,537.29 L445.1,537.12 L445.6,537.04 L446.1,537.01 L446.6,537.00 L447.1,537.00 L447.6,537.00 L448.1,537.00 L448.6,537.00 L449.1,537.00 L449.6,537.00 L450.1,537.00 L450.6,537.00 L451.1,537.00 L451.6,537.00 L452.1,537.00 L452.6,537.00 L453.1,537.00 L453.6,537.00 L454.1,537.00 L454.6,537.00 L455.1,537.00 L455.6,537.00 L456.1,537.00 L456.6,537.00 L457.1,537.00 L457.6,537.00 L458.1,537.00 L458.6,537.00 L459.1,537.00 L459.6,537.00 L460.1,537.00 L460.6,537.00 L461.1,537.00 L461.6,537.00 L462.1,537.00 L462.6,537.00 L463.1,537.00 L463.6,537.00 L464.1,537.00 L464.6,537.00 L465.1,537.00 L465.6,537.00 L466.1,537.00 L466.6,537.00 L467.1,537.00 L467.6,537.00 L468.1,537.00 L468.6,537.00 L469.1,537.00 L469.6,537.00 L470.1,537.00 L470.6,537.00 L471.1,537.00 L471.6,537.00 L472.1,537.00 L472.6,537.00 L473.1,537.00 L473.6,537.00 L474.1,537.00 L474.6,537.00 L475.1,536.99 L475.6,536.97 L476.1,536.88 L476.6,536.54 L477.1,535.56 L477.6,533.29 L478.1,528.99 L478.6,522.25 L479.1,513.48 L479.6,504.02 L480.1,495.59 L480.6,489.57 L481.1,486.40 L481.6,485.52 L481.8,485.50 L482.1,485.67 L482.6,487.34 L483.1,491.65 L483.6,498.79 L484.1,507.97 L484.6,517.67 L485.1,526.35 L485.6,532.99 L486.1,537.30 L486.6,539.48 L486.8,539.79 L487.1,540.00 L487.6,539.49 L488.1,538.61 L488.6,537.84 L489.1,537.35 L489.6,537.12 L490.1,537.03 L490.6,537.01 L491.1,537.00 L491.6,537.00 L492.1,537.00 L492.6,537.00 L493.1,537.00 L493.6,537.00 L494.1,537.00 L494.6,537.00 L495.1,537.00 L495.6,537.00 L496.1,536.99 L496.6,536.99 L497.1,536.98 L497.6,536.96 L498.1,536.93 L498.6,536.89 L499.1,536.82 L499.6,536.71 L500.1,536.57 L500.6,536.36 L501.1,536.10 L501.6,535.78 L502.1,535.40 L502.6,534.99 L503.1,534.55 L503.6,534.13 L504.1,533.76 L504.6,533.47 L505.1,533.29 L505.5,533.25 L505.6,533.25 L506.1,533.35 L506.6,533.57 L507.1,533.90 L507.6,534.29 L508.1,534.73 L508.6,535.16 L509.1,535.56 L509.6,535.92 L510.1,536.22 L510.6,536.45 L511.1,536.63 L511.6,536.76 L512.1,536.85 L512.6,536.91 L513.1,536.95 L513.6,536.97 L514.1,536.98 L514.6,536.99 L515.1,536.99 L515.6,537.00 L516.1,536.99 L516.6,536.99 L517.1,536.98 L517.6,536.97 L518.1,536.94 L518.6,536.90 L519.1,536.84 L519.6,536.75 L520.1,536.62 L520.6,536.45 L521.1,536.22 L521.6,535.94 L522.1,535.62 L522.6,535.26 L523.1,534.88 L523.6,534.51 L524.1,534.19 L524.6,533.94 L525.1,533.79 L525.5,533.75 L525.6,533.75 L526.1,533.84 L526.6,534.03 L527.1,534.31 L527.6,534.65 L528.1,535.03 L528.6,535.40 L529.1,535.75 L529.6,536.06 L530.1,536.32 L530.6,536.53 L531.1,536.68 L531.6,536.79 L532.1,536.87 L532.6,536.92 L533.1,536.95 L533.6,536.97 L534.1,536.99 L534.6,536.99 L535.1,537.00 L535.6,537.00 L536.1,537.00 L536.6,537.00 L537.1,537.00 L537.6,537.00 L538.1,537.00 L538.6,537.00 L539.1,536.99 L539.6,536.95 L540.1,536.82 L540.6,536.43 L541.1,535.54 L541.6,533.85 L542.1,531.20 L542.6,527.75 L543.1,524.03 L543.6,520.72 L544.1,518.35 L544.6,517.10 L545.1,516.76 L545.2,516.75 L545.6,516.82 L546.1,517.48 L546.6,519.17 L547.1,521.98 L547.6,525.59 L548.1,529.39 L548.6,532.76 L549.1,535.28 L549.6,536.83 L550.0,537.52 L550.1,537.56 L550.6,537.71 L551.1,537.56 L551.6,537.34 L552.1,537.16 L552.6,537.06 L553.1,537.02 L553.6,537.00 L554.1,537.00 L554.6,537.00 L555.1,537.00 L555.6,537.00 L556.1,537.00 L556.6,537.00 L557.1,537.00 L557.6,537.00 L558.1,537.00 L558.6,537.02 L559.1,537.07 L559.6,537.21 L560.1,537.56 L560.6,538.15 L561.1,538.82 L561.6,538.82 L562.1,536.74 L562.2,535.91 L562.6,530.61 L563.1,518.60 L563.6,500.03 L564.1,476.38 L564.6,451.20 L565.1,428.97 L565.6,413.16 L566.1,404.86 L566.6,402.55 L566.8,402.50 L567.1,402.94 L567.6,407.31 L568.1,418.53 L568.6,437.09 L569.1,460.77 L569.6,485.43 L570.1,506.79 L570.6,522.12 L571.1,530.81 L571.6,533.70 L571.9,533.22 L572.1,532.18 L572.6,527.81 L573.1,522.29 L573.6,517.31 L574.1,514.18 L574.4,513.50 L574.6,513.57 L575.1,515.40 L575.6,519.03 L576.1,523.47 L576.6,527.80 L577.1,531.41 L577.6,534.07 L578.1,535.83 L578.6,536.82 L579.0,537.16 L579.1,537.20 L579.6,537.13 L580.1,536.77 L580.6,536.25 L581.1,535.65 L581.6,534.97 L582.1,534.19 L582.6,533.30 L583.1,532.33 L583.6,531.32 L584.1,530.34 L584.6,529.47 L585.1,528.81 L585.6,528.40 L586.0,528.30 L586.1,528.31 L586.6,528.53 L587.1,529.04 L587.6,529.80 L588.1,530.72 L588.6,531.72 L589.1,532.73 L589.6,533.66 L590.1,534.49 L590.6,535.18 L591.1,535.73 L591.6,536.14 L592.1,536.44 L592.6,536.65 L593.1,536.78 L593.6,536.86 L594.1,536.90 L594.6,536.91 L595.1,536.88 L595.6,536.83 L596.1,536.75 L596.6,536.62 L597.1,536.45 L597.6,536.22 L598.1,535.94 L598.6,535.62 L599.1,535.26 L599.6,534.88 L600.1,534.51 L600.6,534.19 L601.1,533.94 L601.6,533.79 L602.0,533.75 L602.1,533.75 L602.6,533.84 L603.1,534.03 L603.6,534.31 L604.1,534.65 L604.6,535.03 L605.1,535.40 L605.6,535.75 L606.1,536.06 L606.6,536.32 L607.1,536.53 L607.6,536.68 L608.1,536.79 L608.6,536.87 L609.1,536.92 L609.6,536.95 L610.1,536.97 L610.6,536.99 L611.1,536.99 L611.6,536.99 L612.1,536.99 L612.6,536.99 L613.1,536.98 L613.6,536.97 L614.1,536.94 L614.6,536.89 L615.1,536.82 L615.6,536.70 L616.1,536.52 L616.6,536.28 L617.1,535.94 L617.6,535.51 L618.1,534.97 L618.6,534.34 L619.1,533.64 L619.6,532.92 L620.1,532.21 L620.6,531.59 L621.1,531.11 L621.6,530.82 L622.0,530.75 L622.1,530.75 L622.6,530.91 L623.1,531.29 L623.6,531.83 L624.1,532.49 L624.6,533.21 L625.1,533.93 L625.6,534.60 L626.1,535.20 L626.6,535.69 L627.1,536.09 L627.6,536.39 L628.1,536.60 L628.6,536.75 L629.1,536.85 L629.6,536.91 L630.1,536.95 L630.6,536.97 L631.1,536.99 L631.6,536.99 L632.1,537.00 L632.6,537.00 L633.1,537.00 L633.6,537.00 L634.1,536.99 L634.6,536.99 L635.1,536.97 L635.6,536.95 L636.1,536.92 L636.6,536.88 L637.1,536.81 L637.6,536.72 L638.1,536.60 L638.6,536.44 L639.1,536.25 L639.6,536.04 L640.1,535.81 L640.6,535.58 L641.1,535.36 L641.6,535.19 L642.1,535.06 L642.6,535.00 L642.8,535.00 L643.1,535.02 L643.6,535.10 L644.1,535.25 L644.6,535.45 L645.1,535.67 L645.6,535.90 L646.1,536.13 L646.6,536.33 L647.1,536.51 L647.6,536.65 L648.1,536.76 L648.6,536.83 L649.1,536.84 L649.6,536.67 L650.1,535.93 L650.6,533.75 L651.1,528.66 L651.6,518.99 L652.1,503.84 L652.6,484.15 L653.1,462.88 L653.6,443.94 L654.1,430.39 L654.6,423.27 L655.1,421.29 L655.2,421.25 L655.6,421.63 L656.1,425.40 L656.6,435.11 L657.1,451.26 L657.6,472.12 L658.1,494.36 L658.6,514.40 L659.1,529.69 L659.6,539.26 L660.0,543.01 L660.1,543.48 L660.6,543.76 L661.1,541.96 L661.6,539.75 L662.1,538.08 L662.6,537.09 L663.1,536.58 L663.6,536.27 L664.1,536.01 L664.6,535.74 L665.1,535.42 L665.6,535.05 L666.1,534.64 L666.6,534.19 L667.1,533.69 L667.6,533.18 L668.1,532.65 L668.6,532.12 L669.1,531.62 L669.6,531.15 L670.1,530.75 L670.6,530.42 L671.1,530.17 L671.6,530.03 L672.0,530.00 L672.1,530.00 L672.6,530.08 L673.1,530.26 L673.6,530.54 L674.1,530.90 L674.6,531.33 L675.1,531.82 L675.6,532.33 L676.1,532.86 L676.6,533.39 L677.1,533.89 L677.6,534.37 L678.1,534.81 L678.6,535.21 L679.1,535.55 L679.6,535.85 L680.1,536.10 L680.6,536.31 L681.1,536.47 L681.6,536.61 L682.1,536.71 L682.6,536.79 L683.1,536.85 L683.6,536.90 L684.1,536.93 L684.6,536.95 L685.1,536.97 L685.6,536.98 L686.1,536.99 L686.6,536.99 L687.1,536.99 L687.6,537.00 L688.1,537.00 L688.6,537.00 L689.1,537.00 L689.6,537.00 L690.1,537.00 L690.6,537.00 L691.1,537.00 L691.6,537.00 L692.1,537.00 L692.6,537.00 L693.1,537.00 L693.6,537.00 L694.1,537.00 L694.6,537.00 L695.1,537.00 L695.6,537.00 L696.1,537.00 L696.6,537.00 L697.1,537.00 L697.6,537.00 L698.1,537.00 L698.6,537.00 L699.1,537.00 L699.6,537.00 L700.1,537.00 L700.6,537.00 L701.1,537.00 L701.6,537.00 L702.1,537.00 L702.6,537.00 L703.1,537.00 L703.6,537.00 L704.1,537.00 L704.6,537.00 L705.1,537.00 L705.6,537.00 L706.1,537.00 L706.6,537.00 L707.1,537.00 L707.6,537.00 L708.1,537.00 L708.6,537.00 L709.1,537.00 L709.6,537.00 L710.1,537.00 L710.6,537.00 L711.1,537.00 L711.6,537.00 L712.1,537.00 L712.6,537.00 L713.1,537.00 L713.6,537.00 L714.1,537.00 L714.6,537.00 L715.1,537.00 L715.6,537.00 L716.1,537.00 L716.6,536.98 L717.1,536.90 L717.6,536.64 L718.1,535.99 L718.6,534.62 L719.1,532.27 L719.6,528.91 L720.1,524.93 L720.6,521.01 L721.1,517.87 L721.6,515.91 L722.1,515.10 L722.5,515.00 L722.6,515.00 L723.1,515.31 L723.6,516.55 L724.1,519.02 L724.6,522.57 L725.1,526.69 L725.6,530.67 L726.1,533.91 L726.6,536.12 L727.1,537.33 L727.3,537.59 L727.6,537.77 L728.1,537.73 L728.6,537.50 L729.1,537.27 L729.6,537.12 L730.1,537.04 L730.6,537.01 L731.1,537.00 L731.6,537.00 L732.1,536.99 L732.6,536.99 L733.1,536.98 L733.6,536.95 L734.1,536.91 L734.6,536.85 L735.1,536.74 L735.6,536.58 L736.1,536.33 L736.6,535.99 L737.1,535.52 L737.6,534.91 L738.1,534.16 L738.6,533.28 L739.1,532.30 L739.6,531.29 L740.1,530.30 L740.6,529.43 L741.1,528.76 L741.6,528.35 L742.0,528.25 L742.1,528.26 L742.6,528.48 L743.1,529.00 L743.6,529.76 L744.1,530.69 L744.6,531.69 L745.1,532.69 L745.6,533.59 L746.1,534.25 L746.6,534.40 L747.1,533.54 L747.6,531.01 L748.1,526.22 L748.6,519.18 L749.1,510.73 L749.6,502.37 L750.1,495.65 L750.6,491.45 L751.1,489.72 L751.5,489.50 L751.6,489.51 L752.1,490.18 L752.6,492.86 L753.1,498.18 L753.6,505.85 L754.1,514.75 L754.6,523.33 L755.1,530.32 L755.6,535.10 L756.1,537.72 L756.3,538.26 L756.6,538.66 L757.1,538.58 L757.6,538.08 L758.1,537.58 L758.6,537.25 L759.1,537.09 L759.6,537.02 L760.1,537.01 L760.6,537.00 L761.1,537.00 L761.6,536.99 L762.1,536.94 L762.6,536.71 L763.1,535.89 L763.6,533.54 L764.1,528.08 L764.6,517.71 L765.1,501.48 L765.6,480.38 L766.1,457.60 L766.6,437.30 L767.1,422.80 L767.6,415.17 L768.1,413.04 L768.2,413.00 L768.6,413.41 L769.1,417.43 L769.6,427.79 L770.1,444.93 L770.6,466.86 L771.1,489.81 L771.6,509.92 L772.1,524.78 L772.6,534.00 L773.1,538.57 L773.2,539.26 L773.6,540.00 L774.1,539.70 L774.6,538.79 L775.1,537.93 L775.6,537.39 L776.1,537.13 L776.6,537.04 L777.1,537.01 L777.6,537.00 L778.1,537.00 L778.6,537.00 L779.1,537.00 L779.6,537.00 L780.1,537.00 L780.6,537.00 L781.1,537.00 L781.6,537.00 L782.1,537.00 L782.6,537.00 L783.1,537.00 L783.6,537.00 L784.1,537.00 L784.6,537.00 L785.1,537.00 L785.6,537.00 L786.1,537.00 L786.6,537.00 L787.1,537.00 L787.6,537.00 L788.1,537.00 L788.6,537.00 L789.1,537.00 L789.6,536.97 L790.1,536.88 L790.6,536.54 L791.1,535.58 L791.6,533.35 L792.1,529.11 L792.6,522.46 L793.1,513.83 L793.6,504.50 L794.1,496.20 L794.6,490.26 L795.1,487.14 L795.6,486.27 L795.8,486.25 L796.1,486.42 L796.6,488.07 L797.1,492.31 L797.6,499.36 L798.1,508.40 L798.6,517.94 L799.1,526.38 L799.6,532.69 L800.1,536.58 L800.5,538.30 L800.6,538.40 L801.1,538.78 L801.6,538.41 L802.1,537.84 L802.6,537.40 L803.1,537.13 L803.6,536.99 L804.1,536.90 L804.6,536.80 L805.1,536.64 L805.6,536.39 L806.1,536.01 L806.6,535.44 L807.1,534.67 L807.6,533.66 L808.1,532.42 L808.6,530.98 L809.1,529.42 L809.6,527.86 L810.1,526.46 L810.6,525.35 L811.1,524.67 L811.5,524.50 L811.6,524.51 L812.1,524.88 L812.6,525.75 L813.1,526.99 L813.6,528.48 L814.1,530.05 L814.6,531.57 L815.1,532.94 L815.6,534.09 L816.1,535.01 L816.6,535.69 L817.1,536.18 L817.6,536.51 L818.1,536.72 L818.6,536.84 L819.1,536.92 L819.6,536.96 L820.1,536.98 L820.6,536.99 L821.1,537.00 L821.6,537.00 L822.1,537.00 L822.6,537.00 L823.1,537.00 L823.6,537.00 L824.1,537.00 L824.6,537.00 L825.1,537.00 L825.6,537.00 L826.1,537.00 L826.6,537.00 L827.1,537.00 L827.6,537.00 L828.1,537.00 L828.6,537.00 L829.1,537.00 L829.6,537.00 L830.1,537.00 L830.6,537.00 L831.1,537.00 L831.6,536.97 L832.1,536.88 L832.6,536.54 L833.1,535.58 L833.6,533.35 L834.1,529.11 L834.6,522.46 L835.1,513.83 L835.6,504.50 L836.1,496.20 L836.6,490.26 L837.1,487.14 L837.6,486.27 L837.8,486.25 L838.1,486.42 L838.6,488.07 L839.1,492.31 L839.6,499.36 L840.1,508.40 L840.6,517.94 L841.1,526.38 L841.6,532.69 L842.1,536.58 L842.5,538.30 L842.6,538.40 L843.1,538.78 L843.6,538.41 L844.1,537.85 L844.6,537.41 L845.1,537.16 L845.6,537.05 L846.1,537.01 L846.6,537.00 L847.1,537.00 L847.6,536.98 L848.1,536.91 L848.6,536.69 L849.1,536.10 L849.6,534.81 L850.1,532.50 L850.6,529.08 L851.1,524.87 L851.6,520.58 L852.1,516.98 L852.6,514.60 L853.1,513.50 L853.6,513.30 L854.1,513.51 L854.6,514.60 L855.1,516.99 L855.6,520.62 L856.1,525.00 L856.6,529.37 L857.1,533.06 L857.6,535.67 L858.1,537.19 L858.4,537.64 L858.6,537.80 L859.1,537.83 L859.6,537.60 L860.1,537.34 L860.6,537.15 L861.1,537.06 L861.6,537.02 L862.1,537.00 L862.6,537.00 L863.1,537.00 L863.6,537.00 L864.1,537.00 L864.6,537.00 L865.1,537.00 L865.6,537.00 L866.1,537.00 L866.6,537.00 L867.1,537.00 L867.6,537.00 L868.1,537.00 L868.6,536.99 L869.1,536.99 L869.6,536.98 L870.1,536.96 L870.6,536.92 L871.1,536.86 L871.6,536.77 L872.1,536.62 L872.6,536.39 L873.1,536.07 L873.6,535.63 L874.1,535.05 L874.6,534.34 L875.1,533.48 L875.6,532.53 L876.1,531.52 L876.6,530.53 L877.1,529.63 L877.6,528.92 L878.1,528.46 L878.6,528.30 L879.1,528.46 L879.6,528.92 L880.1,529.63 L880.6,530.53 L881.1,531.52 L881.6,532.53 L882.1,533.48 L882.6,534.34 L883.1,535.05 L883.6,535.63 L884.1,536.07 L884.6,536.39 L885.1,536.62 L885.6,536.77 L886.1,536.86 L886.6,536.92 L887.1,536.95 L887.6,536.97 L888.1,536.97 L888.6,536.97 L889.1,536.95 L889.6,536.93 L890.1,536.90 L890.6,536.86 L891.1,536.82 L891.6,536.77 L892.1,536.71 L892.6,536.65 L893.1,536.60 L893.6,536.55 L894.1,536.52 L894.6,536.50 L894.8,536.50 L895.1,536.50 L895.6,536.52 L896.1,536.56 L896.6,536.61 L897.1,536.66 L897.6,536.72 L898.1,536.78 L898.6,536.83 L899.1,536.87 L899.6,536.91 L900.1,536.94 L900.6,536.96 L901.1,536.97 L901.6,536.98 L902.1,536.99 L902.6,536.99 L903.1,537.00 L903.6,537.00 L904.1,537.00 L904.6,537.00 L905.1,537.00 L905.6,537.00 L906.1,537.00 L906.6,537.00 L907.1,537.00 L907.6,537.00 L908.1,536.99 L908.6,536.99 L909.1,536.98 L909.6,536.96 L910.1,536.93 L910.6,536.88 L911.1,536.81 L911.6,536.71 L912.1,536.56 L912.6,536.37 L913.1,536.13 L913.6,535.85 L914.1,535.53 L914.6,535.18 L915.1,534.83 L915.6,534.52 L916.1,534.26 L916.6,534.08 L917.1,534.00 L917.2,534.00 L917.6,534.04 L918.1,534.17 L918.6,534.40 L919.1,534.70 L919.6,535.04 L920.1,535.39 L920.6,535.72 L921.1,536.03 L921.6,536.28 L922.1,536.49 L922.6,536.65 L923.1,536.77 L923.6,536.85 L924.1,536.91 L924.6,536.95 L925.1,536.97 L925.6,536.98 L926.1,536.99 L926.6,537.00 L927.1,537.00 L927.6,537.00 L928.1,537.00 L928.6,537.00 L929.1,537.00 L929.6,537.00 L930.1,537.00 L930.6,536.98 L931.1,536.93 L931.6,536.72 L932.1,536.15 L932.6,534.85 L933.1,532.42 L933.6,528.69 L934.1,523.94 L934.6,518.90 L935.1,514.50 L935.6,511.44 L936.1,509.89 L936.6,509.50 L936.7,509.50 L937.1,509.63 L937.6,510.65 L938.1,513.10 L938.6,517.06 L939.1,522.02 L939.6,527.17 L940.1,531.65 L940.6,534.94 L941.1,536.93 L941.5,537.71 L941.6,537.82 L942.1,537.96 L942.6,537.74 L943.1,537.44 L943.6,537.20 L944.1,537.08 L944.6,537.02 L945.1,537.01 L945.6,537.00 L946.1,537.00 L946.6,537.00 L947.1,537.00 L947.6,537.00 L948.1,537.00 L948.6,537.00 L949.1,537.00 L949.6,537.00 L950.1,537.00 L950.6,537.00 L951.1,537.00 L951.6,537.00 L952.1,537.00 L952.6,537.00 L953.1,537.00 L953.6,537.00 L954.1,537.00 L954.6,537.00 L955.1,537.00 L955.6,537.00 L956.1,537.00 L956.6,537.00 L957.1,537.00 L957.6,537.00 L958.1,537.00 L958.6,537.00 L959.1,537.00 L959.6,537.00 L960.1,537.00 L960.6,537.00 L961.1,537.00 L961.6,537.00 L962.1,537.00 L962.6,537.00 L963.1,537.00 L963.6,537.00 L964.1,537.00 L964.6,536.99 L965.1,536.99 L965.6,536.98 L966.1,536.96 L966.6,536.93 L967.1,536.89 L967.6,536.83 L968.1,536.75 L968.6,536.64 L969.1,536.49 L969.6,536.31 L970.1,536.11 L970.6,535.88 L971.1,535.65 L971.6,535.43 L972.1,535.24 L972.6,535.09 L973.1,535.01 L973.4,535.00 L973.6,535.01 L974.1,535.07 L974.6,535.20 L975.1,535.38 L975.6,535.60 L976.1,535.83 L976.6,536.06 L977.1,536.27 L977.6,536.46 L978.1,536.61 L978.6,536.73 L979.1,536.82 L979.6,536.88 L980.1,536.93 L980.6,536.96 L981.1,536.98 L981.6,536.99 L982.1,536.99 L982.6,537.00 L983.1,537.00 L983.6,537.00 L984.1,537.00 L984.6,537.00 L985.1,537.00 L985.6,537.00 L986.1,537.00 L986.6,537.00 L987.1,537.00 L987.6,537.00 L988.1,537.00 L988.6,537.00 L989.1,537.00 L989.6,537.00 L990.1,537.00 L990.6,537.00 L991.1,537.00 L991.6,537.00 L992.1,537.00 L992.6,537.00 L993.1,537.00 L993.6,537.00 L994.1,537.00 L994.6,537.00 L995.1,537.00 L995.6,537.00 L996.1,537.00 L996.6,537.00 L997.1,537.00 L997.6,537.00 L998.1,537.00 L998.6,537.00 L999.1,537.00 L999.6,536.99 L1000.1,536.98 L1000.6,536.94 L1001.1,536.85 L1001.6,536.68 L1002.1,536.37 L1002.6,535.86 L1003.1,535.10 L1003.6,534.10 L1004.1,532.94 L1004.6,531.78 L1005.1,530.84 L1005.6,530.35 L1005.8,530.30" fill="none" stroke="#77933C" stroke-width="5.0" stroke-linejoin="round" stroke-linecap="butt"/>
<path d="M84.6,771.00 L85.1,771.00 L85.6,771.00 L86.1,771.00 L86.6,771.00 L87.1,771.00 L87.6,771.00 L88.1,771.00 L88.6,771.00 L89.1,771.00 L89.6,771.00 L90.1,770.99 L90.6,770.99 L91.1,770.99 L91.6,770.98 L92.1,770.98 L92.6,770.97 L93.1,770.96 L93.6,770.95 L94.1,770.93 L94.6,770.90 L95.1,770.87 L95.6,770.83 L96.1,770.78 L96.6,770.71 L97.1,770.63 L97.6,770.53 L98.1,770.40 L98.6,770.25 L99.1,770.06 L99.6,769.83 L100.1,769.56 L100.6,769.23 L101.1,768.85 L101.6,768.40 L102.1,767.87 L102.6,767.27 L103.1,766.59 L103.6,765.81 L104.1,764.95 L104.6,763.98 L105.1,762.92 L105.6,761.76 L106.1,760.50 L106.6,759.16 L107.1,757.72 L107.6,756.17 L108.1,754.48 L108.6,752.54 L109.1,750.12 L109.6,746.82 L110.1,741.99 L110.6,734.67 L111.1,723.74 L111.6,708.11 L112.1,687.20 L112.6,661.43 L113.1,632.64 L113.6,604.12 L114.1,580.11 L114.6,564.79 L115.0,560.80 L115.1,560.96 L115.6,566.32 L116.1,578.80 L116.6,597.08 L117.1,619.38 L117.6,643.83 L118.1,668.81 L118.6,693.29 L119.1,716.70 L119.6,738.32 L120.1,756.62 L120.6,769.50 L120.8,772.07 L121.1,775.75 L121.6,776.28 L122.1,773.76 L122.6,770.96 L123.1,769.25 L123.6,768.60 L124.1,768.52 L124.6,768.62 L125.1,768.74 L125.6,768.82 L126.1,768.89 L126.6,768.93 L127.1,768.97 L127.6,769.01 L128.1,769.04 L128.6,769.08 L129.1,769.11 L129.6,769.14 L130.1,769.17 L130.6,769.20 L131.1,769.23 L131.6,769.26 L132.1,769.29 L132.6,769.31 L133.1,769.34 L133.6,769.36 L134.1,769.38 L134.6,769.40 L135.1,769.40 L135.6,769.39 L136.1,769.35 L136.6,769.27 L137.1,769.13 L137.6,768.93 L138.1,768.64 L138.6,768.24 L139.1,767.74 L139.6,767.12 L140.1,766.41 L140.6,765.65 L141.1,764.89 L141.6,764.18 L142.1,763.59 L142.6,763.18 L143.1,763.01 L143.2,763.00 L143.6,763.08 L144.1,763.39 L144.6,763.91 L145.1,764.60 L145.6,765.38 L146.1,766.19 L146.6,766.97 L147.1,767.68 L147.6,768.30 L148.1,768.80 L148.6,769.19 L149.1,769.49 L149.6,769.70 L150.1,769.85 L150.6,769.95 L151.1,770.02 L151.6,770.07 L152.1,770.10 L152.6,770.12 L153.1,770.14 L153.6,770.16 L154.1,770.18 L154.6,770.19 L155.1,770.20 L155.6,770.22 L156.1,770.23 L156.6,770.24 L157.1,770.26 L157.6,770.27 L158.1,770.28 L158.6,770.29 L159.1,770.30 L159.6,770.32 L160.1,770.33 L160.6,770.34 L161.1,770.35 L161.6,770.36 L162.1,770.37 L162.6,770.38 L163.1,770.39 L163.6,770.40 L164.1,770.41 L164.6,770.42 L165.1,770.43 L165.6,770.44 L166.1,770.45 L166.6,770.46 L167.1,770.47 L167.6,770.48 L168.1,770.48 L168.6,770.49 L169.1,770.50 L169.6,770.51 L170.1,770.52 L170.6,770.53 L171.1,770.53 L171.6,770.54 L172.1,770.55 L172.6,770.56 L173.1,770.56 L173.6,770.57 L174.1,770.58 L174.6,770.58 L175.1,770.59 L175.6,770.60 L176.1,770.60 L176.6,770.61 L177.1,770.62 L177.6,770.62 L178.1,770.63 L178.6,770.64 L179.1,770.64 L179.6,770.65 L180.1,770.65 L180.6,770.66 L181.1,770.67 L181.6,770.67 L182.1,770.68 L182.6,770.68 L183.1,770.69 L183.6,770.69 L184.1,770.70 L184.6,770.70 L185.1,770.71 L185.6,770.71 L186.1,770.72 L186.6,770.72 L187.1,770.73 L187.6,770.73 L188.1,770.74 L188.6,770.74 L189.1,770.74 L189.6,770.75 L190.1,770.75 L190.6,770.76 L191.1,770.76 L191.6,770.76 L192.1,770.77 L192.6,770.77 L193.1,770.78 L193.6,770.78 L194.1,770.78 L194.6,770.79 L195.1,770.79 L195.6,770.79 L196.1,770.80 L196.6,770.80 L197.1,770.80 L197.6,770.81 L198.1,770.81 L198.6,770.81 L199.1,770.82 L199.6,770.82 L200.1,770.82 L200.6,770.83 L201.1,770.83 L201.6,770.83 L202.1,770.83 L202.6,770.84 L203.1,770.84 L203.6,770.84 L204.1,770.84 L204.6,770.85 L205.1,770.85 L205.6,770.85 L206.1,770.85 L206.6,770.86 L207.1,770.86 L207.6,770.86 L208.1,770.86 L208.6,770.87 L209.1,770.87 L209.6,770.87 L210.1,770.87 L210.6,770.87 L211.1,770.86 L211.6,770.81 L212.1,770.59 L212.6,769.87 L213.1,768.03 L213.6,764.17 L214.1,757.52 L214.6,748.03 L215.1,736.78 L215.6,725.73 L216.1,716.86 L216.6,711.33 L217.1,709.04 L217.5,708.75 L217.6,708.76 L218.1,709.63 L218.6,713.13 L219.1,720.06 L219.6,730.00 L220.1,741.39 L220.6,752.12 L221.1,760.49 L221.6,765.85 L222.1,768.55 L222.6,769.42 L223.1,769.30 L223.6,768.78 L224.1,768.29 L224.6,768.10 L225.1,768.30 L225.6,768.83 L226.1,769.48 L226.6,770.06 L227.1,770.48 L227.6,770.73 L228.1,770.85 L228.6,770.91 L229.1,770.93 L229.6,770.93 L230.1,770.93 L230.6,770.94 L231.1,770.94 L231.6,770.94 L232.1,770.94 L232.6,770.94 L233.1,770.94 L233.6,770.94 L234.1,770.94 L234.6,770.94 L235.1,770.94 L235.6,770.95 L236.1,770.95 L236.6,770.95 L237.1,770.95 L237.6,770.95 L238.1,770.95 L238.6,770.95 L239.1,770.95 L239.6,770.95 L240.1,770.95 L240.6,770.95 L241.1,770.95 L241.6,770.96 L242.1,770.96 L242.6,770.96 L243.1,770.96 L243.6,770.96 L244.1,770.96 L244.6,770.96 L245.1,770.96 L245.6,770.96 L246.1,770.96 L246.6,770.96 L247.1,770.96 L247.6,770.96 L248.1,770.96 L248.6,770.96 L249.1,770.97 L249.6,770.97 L250.1,770.97 L250.6,770.97 L251.1,770.97 L251.6,770.97 L252.1,770.97 L252.6,770.97 L253.1,770.97 L253.6,770.97 L254.1,770.97 L254.6,770.97 L255.1,770.97 L255.6,770.97 L256.1,770.97 L256.6,770.96 L257.1,770.93 L257.6,770.77 L258.1,770.28 L258.6,769.00 L259.1,766.33 L259.6,761.73 L260.1,755.17 L260.6,747.39 L261.1,739.75 L261.6,733.61 L262.1,729.79 L262.6,728.20 L263.0,728.00 L263.1,728.00 L263.6,728.61 L264.1,731.03 L264.6,735.83 L265.1,742.72 L265.6,750.66 L266.1,758.26 L266.6,764.38 L267.1,768.61 L267.6,771.09 L268.1,772.25 L268.2,772.40 L268.6,772.50 L269.1,772.23 L269.6,771.79 L270.1,771.40 L270.6,771.16 L271.1,771.04 L271.6,771.00 L272.1,770.99 L272.6,770.98 L273.1,770.98 L273.6,770.98 L274.1,770.98 L274.6,770.97 L275.1,770.96 L275.6,770.95 L276.1,770.92 L276.6,770.88 L277.1,770.82 L277.6,770.73 L278.1,770.61 L278.6,770.45 L279.1,770.26 L279.6,770.04 L280.1,769.79 L280.6,769.53 L281.1,769.27 L281.6,769.05 L282.1,768.88 L282.6,768.78 L283.0,768.75 L283.1,768.75 L283.6,768.81 L284.1,768.94 L284.6,769.14 L285.1,769.37 L285.6,769.63 L286.1,769.89 L286.6,770.13 L287.1,770.34 L287.6,770.52 L288.1,770.66 L288.6,770.77 L289.1,770.85 L289.6,770.90 L290.1,770.94 L290.6,770.96 L291.1,770.97 L291.6,770.98 L292.1,770.99 L292.6,770.99 L293.1,770.99 L293.6,770.99 L294.1,770.99 L294.6,770.99 L295.1,770.99 L295.6,770.99 L296.1,770.99 L296.6,770.99 L297.1,770.99 L297.6,770.99 L298.1,770.99 L298.6,770.99 L299.1,770.99 L299.6,770.99 L300.1,770.99 L300.6,770.99 L301.1,770.99 L301.6,770.99 L302.1,770.99 L302.6,770.99 L303.1,770.99 L303.6,770.99 L304.1,770.99 L304.6,770.99 L305.1,770.99 L305.6,770.99 L306.1,770.99 L306.6,770.99 L307.1,770.99 L307.6,771.00 L308.1,771.00 L308.6,771.00 L309.1,771.00 L309.6,771.00 L310.1,771.00 L310.6,771.00 L311.1,771.00 L311.6,771.00 L312.1,771.00 L312.6,771.00 L313.1,771.00 L313.6,771.00 L314.1,771.00 L314.6,771.00 L315.1,771.00 L315.6,771.00 L316.1,771.00 L316.6,771.00 L317.1,771.00 L317.6,771.00 L318.1,771.00 L318.6,771.00 L319.1,771.00 L319.6,771.00 L320.1,771.00 L320.6,771.00 L321.1,771.00 L321.6,771.00 L322.1,771.00 L322.6,771.00 L323.1,771.00 L323.6,771.00 L324.1,771.00 L324.6,771.00 L325.1,771.00 L325.6,771.00 L326.1,771.00 L326.6,771.00 L327.1,771.00 L327.6,771.00 L328.1,771.00 L328.6,771.00 L329.1,771.00 L329.6,771.00 L330.1,771.00 L330.6,771.00 L331.1,771.00 L331.6,771.00 L332.1,771.00 L332.6,771.00 L333.1,771.00 L333.6,771.00 L334.1,771.00 L334.6,771.00 L335.1,771.00 L335.6,771.00 L336.1,771.00 L336.6,771.00 L337.1,771.00 L337.6,771.00 L338.1,771.00 L338.6,771.00 L339.1,771.00 L339.6,771.00 L340.1,771.00 L340.6,771.00 L341.1,771.00 L341.6,771.00 L342.1,771.00 L342.6,771.00 L343.1,771.00 L343.6,771.00 L344.1,771.00 L344.6,771.00 L345.1,771.00 L345.6,771.00 L346.1,771.00 L346.6,771.00 L347.1,771.00 L347.6,771.00 L348.1,771.00 L348.6,771.00 L349.1,771.00 L349.6,771.00 L350.1,771.00 L350.6,771.00 L351.1,771.00 L351.6,771.00 L352.1,771.00 L352.6,771.00 L353.1,771.00 L353.6,771.00 L354.1,770.98 L354.6,770.90 L355.1,770.60 L355.6,769.61 L356.1,767.08 L356.6,761.76 L357.1,752.60 L357.6,739.55 L358.1,724.07 L358.6,708.87 L359.1,696.67 L359.6,689.05 L360.1,685.91 L360.5,685.50 L360.6,685.51 L361.1,686.71 L361.6,691.52 L362.1,701.06 L362.6,714.75 L363.1,730.49 L363.6,745.45 L364.1,757.44 L364.6,765.64 L365.1,770.50 L365.6,772.94 L366.0,773.69 L366.1,773.75 L366.6,773.53 L367.1,772.81 L367.6,772.04 L368.1,771.48 L368.6,771.18 L369.1,771.06 L369.6,771.01 L370.1,771.00 L370.6,770.99 L371.1,770.99 L371.6,770.98 L372.1,770.97 L372.6,770.95 L373.1,770.92 L373.6,770.88 L374.1,770.83 L374.6,770.76 L375.1,770.67 L375.6,770.57 L376.1,770.46 L376.6,770.35 L377.1,770.23 L377.6,770.13 L378.1,770.06 L378.6,770.01 L379.0,770.00 L379.1,770.00 L379.6,770.03 L380.1,770.09 L380.6,770.17 L381.1,770.28 L381.6,770.39 L382.1,770.51 L382.6,770.62 L383.1,770.71 L383.6,770.79 L384.1,770.85 L384.6,770.90 L385.1,770.94 L385.6,770.96 L386.1,770.98 L386.6,770.99 L387.1,770.99 L387.6,771.00 L388.1,771.00 L388.6,771.00 L389.1,771.00 L389.6,771.00 L390.1,771.00 L390.6,771.00 L391.1,771.00 L391.6,771.00 L392.1,771.00 L392.6,771.00 L393.1,771.00 L393.6,771.00 L394.1,771.00 L394.6,771.00 L395.1,771.00 L395.6,771.00 L396.1,771.00 L396.6,771.00 L397.1,771.00 L397.6,771.00 L398.1,771.00 L398.6,771.00 L399.1,771.00 L399.6,771.00 L400.1,771.00 L400.6,771.00 L401.1,771.00 L401.6,771.00 L402.1,771.00 L402.6,771.00 L403.1,771.00 L403.6,771.00 L404.1,771.00 L404.6,771.00 L405.1,771.00 L405.6,771.00 L406.1,771.00 L406.6,771.00 L407.1,771.00 L407.6,771.00 L408.1,771.00 L408.6,771.00 L409.1,771.00 L409.6,771.00 L410.1,771.00 L410.6,771.00 L411.1,771.00 L411.6,771.00 L412.1,771.00 L412.6,771.00 L413.1,771.00 L413.6,771.00 L414.1,771.00 L414.6,771.00 L415.1,771.00 L415.6,771.00 L416.1,771.00 L416.6,771.00 L417.1,771.00 L417.6,771.00 L418.1,771.00 L418.6,771.00 L419.1,771.00 L419.6,771.00 L420.1,771.00 L420.6,771.00 L421.1,771.00 L421.6,771.00 L422.1,771.00 L422.6,771.00 L423.1,771.00 L423.6,771.00 L424.1,771.00 L424.6,771.00 L425.1,771.00 L425.6,771.00 L426.1,771.00 L426.6,771.00 L427.1,771.00 L427.6,771.00 L428.1,771.00 L428.6,771.00 L429.1,771.00 L429.6,771.00 L430.1,771.00 L430.6,771.00 L431.1,771.00 L431.6,771.00 L432.1,771.00 L432.6,771.00 L433.1,771.00 L433.6,770.99 L434.1,770.95 L434.6,770.81 L435.1,770.41 L435.6,769.49 L436.1,767.73 L436.6,764.98 L437.1,761.41 L437.6,757.55 L438.1,754.12 L438.6,751.66 L439.1,750.37 L439.6,750.01 L439.8,750.00 L440.1,750.07 L440.6,750.75 L441.1,752.51 L441.6,755.42 L442.1,759.17 L442.6,763.11 L443.1,766.60 L443.6,769.21 L444.1,770.83 L444.6,771.54 L444.6,771.58 L445.1,771.74 L445.6,771.58 L446.1,771.35 L446.6,771.17 L447.1,771.07 L447.6,771.02 L448.1,771.01 L448.6,771.00 L449.1,771.00 L449.6,771.00 L450.1,771.00 L450.6,771.00 L451.1,771.00 L451.6,771.00 L452.1,771.00 L452.6,771.00 L453.1,771.00 L453.6,771.00 L454.1,771.00 L454.6,771.00 L455.1,771.00 L455.6,771.00 L456.1,771.00 L456.6,771.00 L457.1,771.00 L457.6,771.00 L458.1,771.00 L458.6,771.00 L459.1,771.00 L459.6,771.00 L460.1,771.00 L460.6,771.00 L461.1,771.00 L461.6,771.00 L462.1,771.00 L462.6,771.00 L463.1,771.00 L463.6,771.00 L464.1,771.00 L464.6,771.00 L465.1,771.00 L465.6,771.00 L466.1,771.00 L466.6,771.00 L467.1,771.00 L467.6,771.00 L468.1,771.00 L468.6,771.00 L469.1,771.00 L469.6,771.00 L470.1,771.00 L470.6,771.00 L471.1,771.00 L471.6,771.00 L472.1,771.00 L472.6,771.00 L473.1,771.00 L473.6,771.00 L474.1,771.00 L474.6,771.00 L475.1,771.00 L475.6,771.00 L476.1,771.00 L476.6,770.99 L477.1,770.95 L477.6,770.80 L478.1,770.31 L478.6,769.06 L479.1,766.44 L479.6,761.91 L480.1,755.46 L480.6,747.81 L481.1,740.30 L481.6,734.27 L482.1,730.51 L482.6,728.95 L483.0,728.75 L483.1,728.75 L483.6,729.35 L484.1,731.73 L484.6,736.45 L485.1,743.25 L485.6,751.11 L486.1,758.66 L486.6,764.80 L487.1,769.03 L487.6,771.45 L488.0,772.33 L488.1,772.44 L488.6,772.50 L489.1,772.11 L489.6,771.65 L490.1,771.30 L490.6,771.11 L491.1,771.04 L491.6,771.01 L492.1,771.00 L492.6,771.00 L493.1,771.00 L493.6,771.00 L494.1,771.00 L494.6,771.00 L495.1,771.00 L495.6,771.00 L496.1,771.00 L496.6,771.00 L497.1,771.00 L497.6,771.00 L498.1,771.00 L498.6,770.99 L499.1,770.98 L499.6,770.97 L500.1,770.95 L500.6,770.91 L501.1,770.86 L501.6,770.79 L502.1,770.68 L502.6,770.55 L503.1,770.37 L503.6,770.16 L504.1,769.92 L504.6,769.66 L505.1,769.40 L505.6,769.16 L506.1,768.96 L506.6,768.82 L507.1,768.75 L507.2,768.75 L507.6,768.77 L508.1,768.87 L508.6,769.03 L509.1,769.25 L509.6,769.50 L510.1,769.77 L510.6,770.02 L511.1,770.25 L511.6,770.44 L512.1,770.61 L512.6,770.73 L513.1,770.82 L513.6,770.89 L514.1,770.93 L514.6,770.96 L515.1,770.98 L515.6,770.99 L516.1,770.99 L516.6,770.99 L517.1,770.99 L517.6,770.99 L518.1,770.98 L518.6,770.97 L519.1,770.95 L519.6,770.92 L520.1,770.87 L520.6,770.80 L521.1,770.70 L521.6,770.58 L522.1,770.43 L522.6,770.26 L523.1,770.06 L523.6,769.86 L524.1,769.66 L524.6,769.49 L525.1,769.35 L525.6,769.27 L526.0,769.25 L526.1,769.25 L526.6,769.30 L527.1,769.40 L527.6,769.55 L528.1,769.74 L528.6,769.94 L529.1,770.14 L529.6,770.33 L530.1,770.50 L530.6,770.63 L531.1,770.74 L531.6,770.83 L532.1,770.89 L532.6,770.93 L533.1,770.96 L533.6,770.98 L534.1,770.99 L534.6,770.99 L535.1,771.00 L535.6,771.00 L536.1,771.00 L536.6,771.00 L537.1,771.00 L537.6,771.00 L538.1,771.00 L538.6,771.00 L539.1,771.00 L539.6,771.00 L540.1,771.00 L540.6,770.98 L541.1,770.92 L541.6,770.74 L542.1,770.27 L542.6,769.27 L543.1,767.56 L543.6,765.11 L544.1,762.22 L544.6,759.37 L545.1,757.09 L545.6,755.67 L546.1,755.08 L546.5,755.00 L546.6,755.00 L547.1,755.23 L547.6,756.13 L548.1,757.91 L548.6,760.47 L549.1,763.40 L549.6,766.17 L550.1,768.34 L550.6,769.75 L551.1,770.50 L551.6,770.84 L552.1,770.96 L552.6,770.99 L553.1,771.00 L553.6,771.00 L554.1,771.00 L554.6,771.00 L555.1,771.00 L555.6,771.00 L556.1,771.00 L556.6,771.00 L557.1,771.00 L557.6,771.00 L558.1,771.00 L558.6,771.00 L559.1,771.00 L559.6,771.00 L560.1,771.00 L560.6,771.01 L561.1,771.04 L561.6,771.07 L562.1,771.11 L562.6,771.05 L563.1,770.66 L563.6,769.34 L564.1,765.92 L564.6,758.82 L565.1,746.62 L565.6,729.26 L566.1,708.71 L566.6,688.52 L567.1,672.33 L567.6,662.22 L568.1,658.04 L568.5,657.50 L568.6,657.51 L569.1,659.11 L569.6,665.53 L570.1,678.30 L570.6,696.72 L571.1,718.01 L571.6,738.27 L572.1,754.05 L572.6,763.63 L572.8,765.71 L573.1,767.20 L573.6,766.31 L574.1,762.88 L574.6,758.61 L575.1,754.79 L575.6,752.29 L576.0,751.60 L576.1,751.63 L576.6,752.88 L577.1,755.66 L577.6,759.25 L578.1,762.92 L578.6,766.12 L579.1,768.56 L579.6,770.20 L580.1,771.07 L580.2,771.16 L580.6,771.30 L581.1,771.08 L581.6,770.63 L582.1,770.08 L582.6,769.51 L583.1,768.90 L583.6,768.24 L584.1,767.53 L584.6,766.81 L585.1,766.12 L585.6,765.53 L586.1,765.09 L586.6,764.84 L586.9,764.80 L587.1,764.82 L587.6,765.02 L588.1,765.43 L588.6,765.99 L589.1,766.67 L589.6,767.38 L590.1,768.09 L590.6,768.75 L591.1,769.32 L591.6,769.79 L592.1,770.16 L592.6,770.44 L593.1,770.64 L593.6,770.77 L594.1,770.86 L594.6,770.91 L595.1,770.94 L595.6,770.95 L596.1,770.94 L596.6,770.91 L597.1,770.86 L597.6,770.79 L598.1,770.68 L598.6,770.55 L599.1,770.37 L599.6,770.16 L600.1,769.92 L600.6,769.66 L601.1,769.40 L601.6,769.16 L602.1,768.96 L602.6,768.82 L603.1,768.75 L603.2,768.75 L603.6,768.77 L604.1,768.87 L604.6,769.03 L605.1,769.25 L605.6,769.50 L606.1,769.77 L606.6,770.02 L607.1,770.25 L607.6,770.44 L608.1,770.61 L608.6,770.73 L609.1,770.82 L609.6,770.89 L610.1,770.93 L610.6,770.96 L611.1,770.98 L611.6,770.99 L612.1,770.99 L612.6,771.00 L613.1,771.00 L613.6,771.00 L614.1,771.00 L614.6,770.99 L615.1,770.99 L615.6,770.97 L616.1,770.95 L616.6,770.92 L617.1,770.87 L617.6,770.79 L618.1,770.67 L618.6,770.51 L619.1,770.29 L619.6,770.02 L620.1,769.69 L620.6,769.32 L621.1,768.92 L621.6,768.51 L622.1,768.14 L622.6,767.83 L623.1,767.61 L623.6,767.51 L623.8,767.50 L624.1,767.53 L624.6,767.68 L625.1,767.94 L625.6,768.28 L626.1,768.67 L626.6,769.08 L627.1,769.47 L627.6,769.83 L628.1,770.14 L628.6,770.39 L629.1,770.58 L629.6,770.72 L630.1,770.82 L630.6,770.89 L631.1,770.94 L631.6,770.96 L632.1,770.98 L632.6,770.99 L633.1,770.99 L633.6,771.00 L634.1,771.00 L634.6,771.00 L635.1,771.00 L635.6,771.00 L636.1,771.00 L636.6,771.00 L637.1,771.00 L637.6,771.00 L638.1,771.00 L638.6,771.00 L639.1,771.00 L639.6,771.00 L640.1,771.00 L640.6,771.00 L641.1,771.00 L641.6,771.00 L642.1,771.00 L642.6,771.00 L643.1,771.00 L643.6,771.00 L644.1,771.00 L644.6,771.00 L645.1,771.00 L645.6,771.00 L646.1,771.00 L646.6,771.00 L647.1,771.00 L647.6,771.00 L648.1,771.00 L648.6,771.00 L649.1,771.00 L649.6,771.00 L650.1,770.98 L650.6,770.89 L651.1,770.54 L651.6,769.41 L652.1,766.51 L652.6,760.41 L653.1,749.92 L653.6,734.95 L654.1,717.21 L654.6,699.79 L655.1,685.80 L655.6,677.07 L656.1,673.46 L656.5,673.00 L656.6,673.01 L657.1,674.38 L657.6,679.90 L658.1,690.84 L658.6,706.57 L659.1,724.65 L659.6,741.87 L660.1,755.60 L660.6,764.80 L661.1,769.89 L661.5,771.79 L661.6,772.05 L662.1,772.50 L662.6,772.18 L663.1,771.68 L663.6,771.28 L664.1,771.04 L664.6,770.87 L665.1,770.72 L665.6,770.52 L666.1,770.24 L666.6,769.86 L667.1,769.38 L667.6,768.81 L668.1,768.19 L668.6,767.57 L669.1,767.02 L669.6,766.59 L670.1,766.33 L670.2,766.29 L670.6,766.25 L671.1,766.33 L671.6,766.50 L672.1,766.69 L672.6,766.82 L673.1,766.86 L673.6,766.78 L674.1,766.61 L674.6,766.41 L675.1,766.27 L675.6,766.25 L675.8,766.28 L676.1,766.40 L676.6,766.73 L677.1,767.22 L677.6,767.81 L678.1,768.43 L678.6,769.04 L679.1,769.58 L679.6,770.02 L680.1,770.36 L680.6,770.60 L681.1,770.76 L681.6,770.87 L682.1,770.93 L682.6,770.96 L683.1,770.98 L683.6,770.99 L684.1,771.00 L684.6,771.00 L685.1,771.00 L685.6,771.00 L686.1,771.00 L686.6,771.00 L687.1,771.00 L687.6,771.00 L688.1,771.00 L688.6,771.00 L689.1,771.00 L689.6,771.00 L690.1,771.00 L690.6,771.00 L691.1,771.00 L691.6,771.00 L692.1,771.00 L692.6,771.00 L693.1,771.00 L693.6,771.00 L694.1,771.00 L694.6,771.00 L695.1,771.00 L695.6,771.00 L696.1,771.00 L696.6,771.00 L697.1,771.00 L697.6,771.00 L698.1,771.00 L698.6,771.00 L699.1,771.00 L699.6,771.00 L700.1,771.00 L700.6,771.00 L701.1,771.00 L701.6,771.00 L702.1,771.00 L702.6,771.00 L703.1,771.00 L703.6,771.00 L704.1,771.00 L704.6,771.00 L705.1,771.00 L705.6,771.00 L706.1,771.00 L706.6,771.00 L707.1,771.00 L707.6,771.00 L708.1,771.00 L708.6,771.00 L709.1,771.00 L709.6,771.00 L710.1,771.00 L710.6,771.00 L711.1,771.00 L711.6,771.00 L712.1,771.00 L712.6,771.00 L713.1,771.00 L713.6,771.00 L714.1,771.00 L714.6,771.00 L715.1,771.00 L715.6,771.00 L716.1,771.00 L716.6,771.00 L717.1,771.00 L717.6,771.00 L718.1,770.98 L718.6,770.91 L719.1,770.68 L719.6,770.09 L720.1,768.87 L720.6,766.75 L721.1,763.73 L721.6,760.16 L722.1,756.65 L722.6,753.83 L723.1,752.07 L723.6,751.34 L724.0,751.25 L724.1,751.25 L724.6,751.53 L725.1,752.64 L725.6,754.84 L726.1,758.00 L726.6,761.62 L727.1,765.04 L727.6,767.71 L728.1,769.45 L728.6,770.39 L729.1,770.80 L729.6,770.95 L730.1,770.99 L730.6,771.00 L731.1,771.00 L731.6,771.00 L732.1,771.00 L732.6,771.00 L733.1,770.99 L733.6,770.98 L734.1,770.96 L734.6,770.94 L735.1,770.89 L735.6,770.81 L736.1,770.69 L736.6,770.50 L737.1,770.25 L737.6,769.90 L738.1,769.45 L738.6,768.89 L739.1,768.24 L739.6,767.51 L740.1,766.75 L740.6,766.02 L741.1,765.38 L741.6,764.88 L742.1,764.58 L742.5,764.50 L742.6,764.50 L743.1,764.67 L743.6,765.06 L744.1,765.62 L744.6,766.31 L745.1,767.06 L745.6,767.81 L746.1,768.50 L746.6,769.08 L747.1,769.45 L747.6,769.39 L748.1,768.48 L748.6,766.16 L749.1,761.92 L749.6,755.76 L750.1,748.41 L750.6,741.16 L751.1,735.33 L751.6,731.69 L752.1,730.19 L752.5,730.00 L752.6,730.01 L753.1,730.58 L753.6,732.90 L754.1,737.49 L754.6,744.11 L755.1,751.79 L755.6,759.20 L756.1,765.23 L756.6,769.36 L757.1,771.62 L757.3,772.09 L757.6,772.44 L758.1,772.36 L758.6,771.93 L759.1,771.50 L759.6,771.22 L760.1,771.08 L760.6,771.02 L761.1,771.00 L761.6,771.00 L762.1,771.00 L762.6,771.00 L763.1,770.98 L763.6,770.88 L764.1,770.49 L764.6,769.24 L765.1,766.02 L765.6,759.28 L766.1,747.66 L766.6,731.08 L767.1,711.45 L767.6,692.15 L768.1,676.67 L768.6,667.01 L769.1,663.01 L769.5,662.50 L769.6,662.51 L770.1,664.04 L770.6,670.16 L771.1,682.33 L771.6,699.87 L772.1,720.15 L772.6,739.56 L773.1,755.08 L773.6,765.31 L774.0,769.89 L774.1,770.62 L774.6,772.48 L775.1,772.52 L775.6,771.98 L776.1,771.47 L776.6,771.18 L777.1,771.06 L777.6,771.01 L778.1,771.00 L778.6,771.00 L779.1,771.00 L779.6,771.00 L780.1,771.00 L780.6,771.00 L781.1,771.00 L781.6,771.00 L782.1,771.00 L782.6,771.00 L783.1,771.00 L783.6,771.00 L784.1,771.00 L784.6,771.00 L785.1,771.00 L785.6,771.00 L786.1,771.00 L786.6,771.00 L787.1,771.00 L787.6,771.00 L788.1,771.00 L788.6,771.00 L789.1,771.00 L789.6,771.00 L790.1,771.00 L790.6,770.99 L791.1,770.95 L791.6,770.80 L792.1,770.29 L792.6,769.00 L793.1,766.30 L793.6,761.64 L794.1,755.00 L794.6,747.12 L795.1,739.39 L795.6,733.18 L796.1,729.31 L796.6,727.71 L797.0,727.50 L797.1,727.50 L797.6,728.11 L798.1,730.57 L798.6,735.44 L799.1,742.47 L799.6,750.62 L800.1,758.48 L800.6,764.88 L801.1,769.26 L801.6,771.66 L801.8,772.16 L802.1,772.52 L802.6,772.45 L803.1,771.98 L803.6,771.52 L804.1,771.21 L804.6,771.04 L805.1,770.95 L805.6,770.86 L806.1,770.74 L806.6,770.56 L807.1,770.28 L807.6,769.88 L808.1,769.32 L808.6,768.60 L809.1,767.70 L809.6,766.66 L810.1,765.54 L810.6,764.42 L811.1,763.41 L811.6,762.61 L812.1,762.12 L812.5,762.00 L812.6,762.01 L813.1,762.28 L813.6,762.90 L814.1,763.79 L814.6,764.86 L815.1,766.00 L815.6,767.09 L816.1,768.08 L816.6,768.91 L817.1,769.57 L817.6,770.06 L818.1,770.41 L818.6,770.64 L819.1,770.79 L819.6,770.89 L820.1,770.94 L820.6,770.97 L821.1,770.99 L821.6,770.99 L822.1,771.00 L822.6,771.00 L823.1,771.00 L823.6,771.00 L824.1,771.00 L824.6,771.00 L825.1,771.00 L825.6,771.00 L826.1,771.00 L826.6,771.00 L827.1,771.00 L827.6,771.00 L828.1,771.00 L828.6,771.00 L829.1,771.00 L829.6,771.00 L830.1,771.00 L830.6,771.00 L831.1,771.00 L831.6,771.00 L832.1,771.00 L832.6,770.99 L833.1,770.95 L833.6,770.79 L834.1,770.29 L834.6,768.99 L835.1,766.26 L835.6,761.56 L836.1,754.85 L836.6,746.91 L837.1,739.10 L837.6,732.83 L838.1,728.92 L838.6,727.31 L839.0,727.10 L839.1,727.11 L839.6,727.72 L840.1,730.20 L840.6,735.11 L841.1,742.21 L841.6,750.43 L842.1,758.36 L842.6,764.83 L843.1,769.24 L843.6,771.66 L843.8,772.17 L844.1,772.54 L844.6,772.46 L845.1,772.00 L845.6,771.53 L846.1,771.23 L846.6,771.08 L847.1,771.02 L847.6,771.01 L848.1,771.00 L848.6,770.99 L849.1,770.97 L849.6,770.87 L850.1,770.58 L850.6,769.86 L851.1,768.40 L851.6,765.98 L852.1,762.66 L852.6,758.87 L853.1,755.29 L853.6,752.54 L854.1,750.93 L854.6,750.35 L854.9,750.30 L855.1,750.32 L855.6,750.74 L856.1,752.13 L856.6,754.68 L857.1,758.18 L857.6,762.08 L858.1,765.71 L858.6,768.57 L859.1,770.45 L859.6,771.42 L859.7,771.53 L860.1,771.72 L860.6,771.64 L861.1,771.41 L861.6,771.21 L862.1,771.09 L862.6,771.03 L863.1,771.01 L863.6,771.00 L864.1,771.00 L864.6,771.00 L865.1,771.00 L865.6,771.00 L866.1,771.00 L866.6,771.00 L867.1,771.00 L867.6,771.00 L868.1,771.00 L868.6,771.00 L869.1,771.00 L869.6,771.00 L870.1,770.99 L870.6,770.99 L871.1,770.98 L871.6,770.96 L872.1,770.92 L872.6,770.86 L873.1,770.77 L873.6,770.62 L874.1,770.41 L874.6,770.12 L875.1,769.73 L875.6,769.24 L876.1,768.64 L876.6,767.95 L877.1,767.21 L877.6,766.46 L878.1,765.75 L878.6,765.16 L879.1,764.73 L879.6,764.52 L879.8,764.50 L880.1,764.54 L880.6,764.80 L881.1,765.26 L881.6,765.89 L882.1,766.60 L882.6,767.36 L883.1,768.10 L883.6,768.77 L884.1,769.34 L884.6,769.82 L885.1,770.19 L885.6,770.46 L886.1,770.65 L886.6,770.79 L887.1,770.87 L887.6,770.93 L888.1,770.96 L888.6,770.98 L889.1,770.99 L889.6,770.99 L890.1,771.00 L890.6,771.00 L891.1,771.00 L891.6,771.00 L892.1,771.00 L892.6,771.00 L893.1,771.00 L893.6,771.00 L894.1,771.00 L894.6,771.00 L895.1,771.00 L895.6,771.00 L896.1,771.00 L896.6,771.00 L897.1,771.00 L897.6,771.00 L898.1,771.00 L898.6,771.00 L899.1,771.00 L899.6,771.00 L900.1,771.00 L900.6,771.00 L901.1,771.00 L901.6,771.00 L902.1,771.00 L902.6,771.00 L903.1,771.00 L903.6,771.00 L904.1,771.00 L904.6,771.00 L905.1,771.00 L905.6,771.00 L906.1,771.00 L906.6,771.00 L907.1,771.00 L907.6,771.00 L908.1,771.00 L908.6,771.00 L909.1,771.00 L909.6,770.99 L910.1,770.99 L910.6,770.98 L911.1,770.97 L911.6,770.94 L912.1,770.90 L912.6,770.85 L913.1,770.77 L913.6,770.66 L914.1,770.52 L914.6,770.35 L915.1,770.15 L915.6,769.93 L916.1,769.69 L916.6,769.47 L917.1,769.27 L917.6,769.12 L918.1,769.02 L918.5,769.00 L918.6,769.00 L919.1,769.05 L919.6,769.17 L920.1,769.35 L920.6,769.56 L921.1,769.79 L921.6,770.02 L922.1,770.23 L922.6,770.42 L923.1,770.58 L923.6,770.71 L924.1,770.80 L924.6,770.87 L925.1,770.92 L925.6,770.95 L926.1,770.97 L926.6,770.98 L927.1,770.99 L927.6,771.00 L928.1,771.00 L928.6,771.00 L929.1,771.00 L929.6,771.00 L930.1,771.00 L930.6,771.00 L931.1,771.00 L931.6,770.99 L932.1,770.97 L932.6,770.86 L933.1,770.54 L933.6,769.75 L934.1,768.15 L934.6,765.50 L935.1,761.86 L935.6,757.70 L936.1,753.77 L936.6,750.76 L937.1,748.99 L937.6,748.35 L937.9,748.30 L938.1,748.32 L938.6,748.78 L939.1,750.31 L939.6,753.10 L940.1,756.94 L940.6,761.22 L941.1,765.20 L941.6,768.34 L942.1,770.40 L942.6,771.47 L942.7,771.58 L943.1,771.79 L943.6,771.70 L944.1,771.45 L944.6,771.23 L945.1,771.10 L945.6,771.03 L946.1,771.01 L946.6,771.00 L947.1,771.00 L947.6,771.00 L948.1,771.00 L948.6,771.00 L949.1,771.00 L949.6,771.00 L950.1,771.00 L950.6,771.00 L951.1,771.00 L951.6,771.00 L952.1,771.00 L952.6,771.00 L953.1,771.00 L953.6,771.00 L954.1,771.00 L954.6,771.00 L955.1,771.00 L955.6,771.00 L956.1,771.00 L956.6,771.00 L957.1,771.00 L957.6,771.00 L958.1,771.00 L958.6,771.00 L959.1,771.00 L959.6,771.00 L960.1,771.00 L960.6,771.00 L961.1,771.00 L961.6,771.00 L962.1,771.00 L962.6,771.00 L963.1,771.00 L963.6,771.00 L964.1,771.00 L964.6,771.00 L965.1,771.00 L965.6,771.00 L966.1,771.00 L966.6,770.99 L967.1,770.98 L967.6,770.97 L968.1,770.96 L968.6,770.93 L969.1,770.89 L969.6,770.84 L970.1,770.78 L970.6,770.69 L971.1,770.60 L971.6,770.49 L972.1,770.37 L972.6,770.26 L973.1,770.15 L973.6,770.07 L974.1,770.02 L974.6,770.00 L975.1,770.02 L975.6,770.07 L976.1,770.15 L976.6,770.26 L977.1,770.37 L977.6,770.49 L978.1,770.60 L978.6,770.69 L979.1,770.78 L979.6,770.84 L980.1,770.89 L980.6,770.93 L981.1,770.96 L981.6,770.97 L982.1,770.98 L982.6,770.99 L983.1,771.00 L983.6,771.00 L984.1,771.00 L984.6,771.00 L985.1,771.00 L985.6,771.00 L986.1,771.00 L986.6,771.00 L987.1,771.00 L987.6,771.00 L988.1,771.00 L988.6,771.00 L989.1,771.00 L989.6,771.00 L990.1,771.00 L990.6,771.00 L991.1,771.00 L991.6,771.00 L992.1,771.00 L992.6,771.00 L993.1,771.00 L993.6,771.00 L994.1,771.00 L994.6,771.00 L995.1,771.00 L995.6,771.00 L996.1,771.00 L996.6,771.00 L997.1,771.00 L997.6,771.00 L998.1,771.00 L998.6,771.00 L999.1,771.00 L999.6,770.99 L1000.1,770.98 L1000.6,770.94 L1001.1,770.86 L1001.6,770.71 L1002.1,770.42 L1002.6,769.95 L1003.1,769.24 L1003.6,768.32 L1004.1,767.24 L1004.6,766.17 L1005.1,765.30 L1005.6,764.84 L1005.8,764.80" fill="none" stroke="#C00000" stroke-width="5.0" stroke-linejoin="round" stroke-linecap="butt"/>
<path d="M84.6,1132.92 L85.1,1132.86 L85.6,1132.80 L86.1,1132.74 L86.6,1132.67 L87.1,1132.61 L87.6,1132.55 L88.1,1132.49 L88.6,1132.42 L89.1,1132.36 L89.6,1132.30 L90.1,1132.24 L90.6,1132.17 L91.1,1132.11 L91.6,1132.05 L92.1,1131.98 L92.6,1131.92 L93.1,1131.85 L93.6,1131.78 L94.1,1131.71 L94.6,1131.63 L95.1,1131.55 L95.6,1131.45 L96.1,1131.34 L96.6,1131.22 L97.1,1131.07 L97.6,1130.89 L98.1,1130.67 L98.6,1130.39 L99.1,1130.05 L99.6,1129.62 L100.1,1129.10 L100.6,1128.49 L101.1,1127.74 L101.6,1126.80 L102.1,1125.65 L102.6,1124.26 L103.1,1122.59 L103.6,1120.63 L104.1,1118.35 L104.6,1115.71 L105.1,1112.69 L105.6,1109.22 L106.1,1105.18 L106.6,1100.33 L107.1,1094.24 L107.6,1086.19 L108.1,1075.10 L108.6,1059.60 L109.1,1038.19 L109.6,1009.65 L110.1,973.69 L110.6,931.50 L111.1,886.20 L111.6,842.69 L112.1,806.86 L112.6,784.31 L113.0,778.50 L113.1,778.82 L113.6,789.48 L114.1,814.18 L114.6,850.36 L115.1,894.77 L115.6,944.09 L116.1,995.17 L116.6,1044.63 L117.1,1088.47 L117.6,1122.41 L118.0,1140.26 L118.1,1143.35 L118.6,1151.02 L119.1,1148.43 L119.6,1140.92 L120.1,1133.39 L120.6,1128.17 L121.1,1125.37 L121.6,1124.22 L122.1,1123.93 L122.6,1123.99 L123.1,1124.16 L123.6,1124.33 L124.1,1124.51 L124.6,1124.67 L125.1,1124.83 L125.6,1124.98 L126.1,1125.13 L126.6,1125.28 L127.1,1125.42 L127.6,1125.55 L128.1,1125.69 L128.6,1125.82 L129.1,1125.95 L129.6,1126.07 L130.1,1126.19 L130.6,1126.31 L131.1,1126.42 L131.6,1126.52 L132.1,1126.61 L132.6,1126.67 L133.1,1126.71 L133.6,1126.71 L134.1,1126.65 L134.6,1126.50 L135.1,1126.26 L135.6,1125.89 L136.1,1125.38 L136.6,1124.72 L137.1,1123.94 L137.6,1123.06 L138.1,1122.13 L138.6,1121.24 L139.1,1120.46 L139.6,1119.87 L140.1,1119.54 L140.5,1119.50 L140.6,1119.52 L141.1,1119.81 L141.6,1120.39 L142.1,1121.21 L142.6,1122.19 L143.1,1123.25 L143.6,1124.31 L144.1,1125.30 L144.6,1126.18 L145.1,1126.92 L145.6,1127.52 L146.1,1127.99 L146.6,1128.34 L147.1,1128.60 L147.6,1128.79 L148.1,1128.93 L148.6,1129.03 L149.1,1129.11 L149.6,1129.17 L150.1,1129.22 L150.6,1129.27 L151.1,1129.32 L151.6,1129.36 L152.1,1129.40 L152.6,1129.44 L153.1,1129.48 L153.6,1129.52 L154.1,1129.55 L154.6,1129.59 L155.1,1129.62 L155.6,1129.66 L156.1,1129.69 L156.6,1129.72 L157.1,1129.75 L157.6,1129.78 L158.1,1129.81 L158.6,1129.84 L159.1,1129.87 L159.6,1129.90 L160.1,1129.93 L160.6,1129.95 L161.1,1129.98 L161.6,1130.01 L162.1,1130.03 L162.6,1130.05 L163.1,1130.08 L163.6,1130.10 L164.1,1130.12 L164.6,1130.14 L165.1,1130.16 L165.6,1130.19 L166.1,1130.21 L166.6,1130.23 L167.1,1130.24 L167.6,1130.26 L168.1,1130.28 L168.6,1130.30 L169.1,1130.32 L169.6,1130.33 L170.1,1130.35 L170.6,1130.37 L171.1,1130.38 L171.6,1130.40 L172.1,1130.41 L172.6,1130.43 L173.1,1130.44 L173.6,1130.45 L174.1,1130.47 L174.6,1130.48 L175.1,1130.49 L175.6,1130.51 L176.1,1130.52 L176.6,1130.53 L177.1,1130.54 L177.6,1130.55 L178.1,1130.56 L178.6,1130.57 L179.1,1130.59 L179.6,1130.60 L180.1,1130.61 L180.6,1130.62 L181.1,1130.62 L181.6,1130.63 L182.1,1130.64 L182.6,1130.65 L183.1,1130.66 L183.6,1130.67 L184.1,1130.68 L184.6,1130.69 L185.1,1130.69 L185.6,1130.70 L186.1,1130.71 L186.6,1130.71 L187.1,1130.72 L187.6,1130.73 L188.1,1130.74 L188.6,1130.74 L189.1,1130.75 L189.6,1130.75 L190.1,1130.76 L190.6,1130.77 L191.1,1130.77 L191.6,1130.78 L192.1,1130.78 L192.6,1130.79 L193.1,1130.79 L193.6,1130.80 L194.1,1130.80 L194.6,1130.81 L195.1,1130.81 L195.6,1130.82 L196.1,1130.82 L196.6,1130.83 L197.1,1130.83 L197.6,1130.84 L198.1,1130.84 L198.6,1130.84 L199.1,1130.85 L199.6,1130.85 L200.1,1130.85 L200.6,1130.86 L201.1,1130.86 L201.6,1130.87 L202.1,1130.87 L202.6,1130.87 L203.1,1130.88 L203.6,1130.88 L204.1,1130.88 L204.6,1130.88 L205.1,1130.89 L205.6,1130.89 L206.1,1130.89 L206.6,1130.90 L207.1,1130.90 L207.6,1130.90 L208.1,1130.90 L208.6,1130.89 L209.1,1130.81 L209.6,1130.48 L210.1,1129.43 L210.6,1126.72 L211.1,1121.04 L211.6,1111.25 L212.1,1097.28 L212.6,1080.74 L213.1,1064.48 L213.6,1051.44 L214.1,1043.30 L214.6,1039.93 L215.0,1039.50 L215.1,1039.51 L215.6,1040.79 L216.1,1045.94 L216.6,1056.13 L217.1,1070.76 L217.6,1087.52 L218.1,1103.31 L218.6,1115.67 L219.1,1123.62 L219.6,1127.67 L220.1,1128.98 L220.6,1128.62 L221.1,1127.31 L221.6,1125.59 L222.1,1124.07 L222.6,1123.32 L222.7,1123.30 L223.1,1123.65 L223.6,1124.93 L224.1,1126.67 L224.6,1128.33 L225.1,1129.57 L225.6,1130.32 L226.1,1130.71 L226.6,1130.88 L227.1,1130.94 L227.6,1130.96 L228.1,1130.96 L228.6,1130.96 L229.1,1130.97 L229.6,1130.97 L230.1,1130.97 L230.6,1130.97 L231.1,1130.97 L231.6,1130.97 L232.1,1130.97 L232.6,1130.97 L233.1,1130.97 L233.6,1130.97 L234.1,1130.97 L234.6,1130.97 L235.1,1130.97 L235.6,1130.98 L236.1,1130.98 L236.6,1130.98 L237.1,1130.98 L237.6,1130.98 L238.1,1130.98 L238.6,1130.98 L239.1,1130.98 L239.6,1130.98 L240.1,1130.98 L240.6,1130.98 L241.1,1130.98 L241.6,1130.98 L242.1,1130.98 L242.6,1130.98 L243.1,1130.98 L243.6,1130.98 L244.1,1130.98 L244.6,1130.98 L245.1,1130.98 L245.6,1130.99 L246.1,1130.99 L246.6,1130.99 L247.1,1130.99 L247.6,1130.99 L248.1,1130.99 L248.6,1130.99 L249.1,1130.99 L249.6,1130.99 L250.1,1130.99 L250.6,1130.99 L251.1,1130.99 L251.6,1130.99 L252.1,1130.99 L252.6,1130.99 L253.1,1130.99 L253.6,1130.99 L254.1,1130.98 L254.6,1130.96 L255.1,1130.83 L255.6,1130.39 L256.1,1129.11 L256.6,1126.15 L257.1,1120.53 L257.6,1111.73 L258.1,1100.29 L258.6,1087.93 L259.1,1076.93 L259.6,1069.06 L260.1,1064.92 L260.6,1063.77 L260.8,1063.75 L261.1,1063.97 L261.6,1066.16 L262.1,1071.79 L262.6,1081.15 L263.1,1093.18 L263.6,1105.91 L264.1,1117.24 L264.6,1125.74 L265.1,1131.00 L265.5,1133.09 L265.6,1133.38 L266.1,1133.75 L266.6,1133.10 L267.1,1132.23 L267.6,1131.58 L268.1,1131.22 L268.6,1131.06 L269.1,1131.01 L269.6,1131.00 L270.1,1130.99 L270.6,1130.99 L271.1,1130.99 L271.6,1130.98 L272.1,1130.96 L272.6,1130.94 L273.1,1130.89 L273.6,1130.83 L274.1,1130.73 L274.6,1130.59 L275.1,1130.40 L275.6,1130.16 L276.1,1129.86 L276.6,1129.51 L277.1,1129.12 L277.6,1128.71 L278.1,1128.32 L278.6,1127.97 L279.1,1127.70 L279.6,1127.54 L280.0,1127.50 L280.1,1127.50 L280.6,1127.59 L281.1,1127.80 L281.6,1128.10 L282.1,1128.47 L282.6,1128.88 L283.1,1129.28 L283.6,1129.66 L284.1,1129.99 L284.6,1130.27 L285.1,1130.49 L285.6,1130.65 L286.1,1130.77 L286.6,1130.86 L287.1,1130.91 L287.6,1130.95 L288.1,1130.97 L288.6,1130.98 L289.1,1130.99 L289.6,1130.99 L290.1,1131.00 L290.6,1131.00 L291.1,1131.00 L291.6,1131.00 L292.1,1131.00 L292.6,1131.00 L293.1,1131.00 L293.6,1131.00 L294.1,1131.00 L294.6,1131.00 L295.1,1131.00 L295.6,1131.00 L296.1,1131.00 L296.6,1131.00 L297.1,1131.00 L297.6,1131.00 L298.1,1131.00 L298.6,1131.00 L299.1,1131.00 L299.6,1131.00 L300.1,1131.00 L300.6,1131.00 L301.1,1131.00 L301.6,1131.00 L302.1,1131.00 L302.6,1131.00 L303.1,1131.00 L303.6,1131.00 L304.1,1131.00 L304.6,1131.00 L305.1,1131.00 L305.6,1131.00 L306.1,1131.00 L306.6,1131.00 L307.1,1131.00 L307.6,1131.00 L308.1,1131.00 L308.6,1131.00 L309.1,1131.00 L309.6,1131.00 L310.1,1131.00 L310.6,1131.00 L311.1,1131.00 L311.6,1131.00 L312.1,1131.00 L312.6,1131.00 L313.1,1131.00 L313.6,1131.00 L314.1,1131.00 L314.6,1131.00 L315.1,1131.00 L315.6,1131.00 L316.1,1131.00 L316.6,1131.00 L317.1,1131.00 L317.6,1131.00 L318.1,1131.00 L318.6,1131.00 L319.1,1131.00 L319.6,1131.00 L320.1,1131.00 L320.6,1131.00 L321.1,1131.00 L321.6,1131.00 L322.1,1131.00 L322.6,1131.00 L323.1,1131.00 L323.6,1131.00 L324.1,1131.00 L324.6,1131.00 L325.1,1131.00 L325.6,1131.00 L326.1,1131.00 L326.6,1131.00 L327.1,1131.00 L327.6,1131.00 L328.1,1131.00 L328.6,1131.00 L329.1,1131.00 L329.6,1131.00 L330.1,1131.00 L330.6,1131.00 L331.1,1131.00 L331.6,1131.00 L332.1,1131.00 L332.6,1131.00 L333.1,1131.00 L333.6,1131.00 L334.1,1131.00 L334.6,1131.00 L335.1,1131.00 L335.6,1131.00 L336.1,1131.00 L336.6,1131.00 L337.1,1131.00 L337.6,1131.00 L338.1,1131.00 L338.6,1131.00 L339.1,1131.00 L339.6,1131.00 L340.1,1131.00 L340.6,1131.00 L341.1,1131.00 L341.6,1131.00 L342.1,1131.00 L342.6,1131.00 L343.1,1131.00 L343.6,1131.00 L344.1,1131.00 L344.6,1131.00 L345.1,1131.00 L345.6,1131.00 L346.1,1131.00 L346.6,1131.00 L347.1,1131.00 L347.6,1131.00 L348.1,1131.00 L348.6,1131.00 L349.1,1131.00 L349.6,1131.00 L350.1,1131.00 L350.6,1131.00 L351.1,1131.00 L351.6,1131.00 L352.1,1130.98 L352.6,1130.87 L353.1,1130.44 L353.6,1129.07 L354.1,1125.54 L354.6,1118.14 L355.1,1105.40 L355.6,1087.22 L356.1,1065.69 L356.6,1044.53 L357.1,1027.54 L357.6,1016.95 L358.1,1012.56 L358.5,1012.00 L358.6,1012.01 L359.1,1013.68 L359.6,1020.39 L360.1,1033.69 L360.6,1052.84 L361.1,1074.95 L361.6,1096.19 L362.1,1113.42 L362.6,1125.27 L363.1,1132.01 L363.5,1134.49 L363.6,1134.79 L364.1,1135.00 L364.6,1133.97 L365.1,1132.73 L365.6,1131.81 L366.1,1131.30 L366.6,1131.09 L367.1,1131.01 L367.6,1130.98 L368.1,1130.96 L368.6,1130.93 L369.1,1130.89 L369.6,1130.83 L370.1,1130.74 L370.6,1130.62 L371.1,1130.46 L371.6,1130.27 L372.1,1130.04 L372.6,1129.79 L373.1,1129.53 L373.6,1129.28 L374.1,1129.05 L374.6,1128.88 L375.1,1128.78 L375.5,1128.75 L375.6,1128.75 L376.1,1128.81 L376.6,1128.94 L377.1,1129.14 L377.6,1129.38 L378.1,1129.64 L378.6,1129.89 L379.1,1130.14 L379.6,1130.35 L380.1,1130.53 L380.6,1130.67 L381.1,1130.78 L381.6,1130.86 L382.1,1130.91 L382.6,1130.95 L383.1,1130.97 L383.6,1130.98 L384.1,1130.99 L384.6,1131.00 L385.1,1131.00 L385.6,1131.00 L386.1,1131.00 L386.6,1131.00 L387.1,1131.00 L387.6,1131.00 L388.1,1131.00 L388.6,1131.00 L389.1,1131.00 L389.6,1131.00 L390.1,1131.00 L390.6,1131.00 L391.1,1131.00 L391.6,1131.00 L392.1,1131.00 L392.6,1131.00 L393.1,1131.00 L393.6,1131.00 L394.1,1131.00 L394.6,1131.00 L395.1,1131.00 L395.6,1131.00 L396.1,1131.00 L396.6,1131.00 L397.1,1131.00 L397.6,1131.00 L398.1,1131.00 L398.6,1131.00 L399.1,1131.00 L399.6,1131.00 L400.1,1131.00 L400.6,1131.00 L401.1,1131.01 L401.6,1131.01 L402.1,1131.01 L402.6,1131.02 L403.1,1131.03 L403.6,1131.05 L404.1,1131.07 L404.6,1131.10 L405.1,1131.13 L405.6,1131.16 L406.1,1131.20 L406.6,1131.23 L407.1,1131.26 L407.6,1131.28 L408.1,1131.30 L408.5,1131.30 L408.6,1131.30 L409.1,1131.29 L409.6,1131.28 L410.1,1131.25 L410.6,1131.22 L411.1,1131.18 L411.6,1131.15 L412.1,1131.12 L412.6,1131.09 L413.1,1131.06 L413.6,1131.04 L414.1,1131.03 L414.6,1131.02 L415.1,1131.01 L415.6,1131.01 L416.1,1131.00 L416.6,1131.00 L417.1,1131.00 L417.6,1131.00 L418.1,1131.00 L418.6,1131.00 L419.1,1131.00 L419.6,1131.00 L420.1,1131.00 L420.6,1131.00 L421.1,1131.00 L421.6,1131.00 L422.1,1131.00 L422.6,1131.00 L423.1,1131.00 L423.6,1131.00 L424.1,1131.00 L424.6,1131.00 L425.1,1131.00 L425.6,1131.00 L426.1,1131.00 L426.6,1131.00 L427.1,1131.00 L427.6,1131.00 L428.1,1131.00 L428.6,1131.00 L429.1,1131.00 L429.6,1131.00 L430.1,1131.00 L430.6,1130.99 L431.1,1130.93 L431.6,1130.73 L432.1,1130.16 L432.6,1128.82 L433.1,1126.29 L433.6,1122.33 L434.1,1117.19 L434.6,1111.63 L435.1,1106.68 L435.6,1103.14 L436.1,1101.28 L436.6,1100.76 L436.8,1100.75 L437.1,1100.85 L437.6,1101.83 L438.1,1104.36 L438.6,1108.56 L439.1,1113.95 L439.6,1119.64 L440.1,1124.67 L440.6,1128.43 L441.1,1130.75 L441.6,1131.77 L441.6,1131.83 L442.1,1132.06 L442.6,1131.84 L443.1,1131.51 L443.6,1131.24 L444.1,1131.09 L444.6,1131.03 L445.1,1131.01 L445.6,1131.00 L446.1,1131.00 L446.6,1131.00 L447.1,1131.00 L447.6,1131.00 L448.1,1131.00 L448.6,1131.00 L449.1,1131.00 L449.6,1131.00 L450.1,1131.00 L450.6,1131.00 L451.1,1131.00 L451.6,1131.00 L452.1,1131.00 L452.6,1131.00 L453.1,1131.00 L453.6,1131.00 L454.1,1131.00 L454.6,1131.00 L455.1,1131.00 L455.6,1131.00 L456.1,1131.00 L456.6,1131.00 L457.1,1131.00 L457.6,1131.00 L458.1,1131.00 L458.6,1131.00 L459.1,1131.00 L459.6,1131.00 L460.1,1131.00 L460.6,1131.00 L461.1,1131.00 L461.6,1131.00 L462.1,1131.00 L462.6,1131.00 L463.1,1131.00 L463.6,1131.00 L464.1,1131.00 L464.6,1131.00 L465.1,1131.00 L465.6,1131.00 L466.1,1131.00 L466.6,1131.00 L467.1,1131.00 L467.6,1131.00 L468.1,1131.00 L468.6,1131.00 L469.1,1131.00 L469.6,1131.00 L470.1,1131.00 L470.6,1131.00 L471.1,1131.00 L471.6,1131.00 L472.1,1131.00 L472.6,1131.00 L473.1,1131.00 L473.6,1131.00 L474.1,1130.99 L474.6,1130.94 L475.1,1130.72 L475.6,1130.05 L476.1,1128.32 L476.6,1124.68 L477.1,1118.41 L477.6,1109.48 L478.1,1098.89 L478.6,1088.49 L479.1,1080.14 L479.6,1074.93 L480.1,1072.78 L480.5,1072.50 L480.6,1072.51 L481.1,1073.33 L481.6,1076.62 L482.1,1083.17 L482.6,1092.60 L483.1,1103.53 L483.6,1114.09 L484.1,1122.75 L484.6,1128.82 L485.1,1132.33 L485.5,1133.60 L485.6,1133.75 L486.1,1133.73 L486.6,1133.00 L487.1,1132.16 L487.6,1131.54 L488.1,1131.21 L488.6,1131.06 L489.1,1131.02 L489.6,1131.00 L490.1,1131.00 L490.6,1131.00 L491.1,1131.00 L491.6,1131.00 L492.1,1131.00 L492.6,1131.00 L493.1,1131.00 L493.6,1131.00 L494.1,1131.00 L494.6,1131.00 L495.1,1131.00 L495.6,1130.99 L496.1,1130.98 L496.6,1130.97 L497.1,1130.94 L497.6,1130.89 L498.1,1130.82 L498.6,1130.71 L499.1,1130.55 L499.6,1130.33 L500.1,1130.04 L500.6,1129.67 L501.1,1129.23 L501.6,1128.72 L502.1,1128.17 L502.6,1127.63 L503.1,1127.12 L503.6,1126.69 L504.1,1126.40 L504.6,1126.26 L504.8,1126.25 L505.1,1126.29 L505.6,1126.50 L506.1,1126.85 L506.6,1127.31 L507.1,1127.84 L507.6,1128.40 L508.1,1128.93 L508.6,1129.41 L509.1,1129.83 L509.6,1130.17 L510.1,1130.43 L510.6,1130.62 L511.1,1130.76 L511.6,1130.85 L512.1,1130.91 L512.6,1130.95 L513.1,1130.96 L513.6,1130.97 L514.1,1130.96 L514.6,1130.94 L515.1,1130.91 L515.6,1130.85 L516.1,1130.76 L516.6,1130.62 L517.1,1130.44 L517.6,1130.19 L518.1,1129.88 L518.6,1129.51 L519.1,1129.08 L519.6,1128.62 L520.1,1128.16 L520.6,1127.73 L521.1,1127.37 L521.6,1127.12 L522.1,1127.01 L522.2,1127.00 L522.6,1127.04 L523.1,1127.21 L523.6,1127.50 L524.1,1127.89 L524.6,1128.34 L525.1,1128.81 L525.6,1129.26 L526.1,1129.66 L526.6,1130.01 L527.1,1130.30 L527.6,1130.52 L528.1,1130.68 L528.6,1130.80 L529.1,1130.88 L529.6,1130.93 L530.1,1130.96 L530.6,1130.98 L531.1,1130.99 L531.6,1130.99 L532.1,1131.00 L532.6,1131.00 L533.1,1131.00 L533.6,1131.00 L534.1,1131.00 L534.6,1131.00 L535.1,1131.00 L535.6,1131.00 L536.1,1131.00 L536.6,1131.00 L537.1,1130.99 L537.6,1130.97 L538.1,1130.88 L538.6,1130.58 L539.1,1129.81 L539.6,1128.19 L540.1,1125.41 L540.6,1121.44 L541.1,1116.73 L541.6,1112.11 L542.1,1108.40 L542.6,1106.08 L543.1,1105.12 L543.5,1105.00 L543.6,1105.00 L544.1,1105.37 L544.6,1106.83 L545.1,1109.75 L545.6,1113.95 L546.1,1118.82 L546.6,1123.52 L547.1,1127.34 L547.6,1129.96 L548.1,1131.39 L548.3,1131.69 L548.6,1131.91 L549.1,1131.86 L549.6,1131.59 L550.1,1131.32 L550.6,1131.14 L551.1,1131.05 L551.6,1131.01 L552.1,1131.00 L552.6,1131.00 L553.1,1131.00 L553.6,1131.00 L554.1,1131.00 L554.6,1131.00 L555.1,1131.00 L555.6,1131.00 L556.1,1131.00 L556.6,1131.00 L557.1,1131.01 L557.6,1131.02 L558.1,1131.04 L558.6,1131.08 L559.1,1131.11 L559.6,1131.01 L560.1,1130.43 L560.6,1128.47 L561.1,1123.44 L561.6,1112.94 L562.1,1094.90 L562.6,1069.21 L563.1,1038.80 L563.6,1008.92 L564.1,984.95 L564.6,969.98 L565.1,963.80 L565.5,963.00 L565.6,963.02 L566.1,965.37 L566.6,974.82 L567.1,993.55 L567.6,1020.43 L568.1,1051.25 L568.6,1080.39 L569.1,1103.24 L569.6,1117.78 L570.1,1124.42 L570.6,1124.80 L570.7,1124.30 L571.1,1120.90 L571.6,1114.79 L572.1,1108.64 L572.6,1104.27 L573.0,1102.84 L573.1,1102.80 L573.6,1104.39 L574.1,1108.37 L574.6,1113.59 L575.1,1118.90 L575.6,1123.48 L576.1,1127.01 L576.6,1129.53 L577.1,1131.16 L577.6,1131.94 L577.9,1132.00 L578.1,1131.88 L578.6,1131.10 L579.1,1129.90 L579.6,1128.58 L580.1,1127.33 L580.6,1126.20 L581.1,1125.19 L581.6,1124.31 L582.1,1123.59 L582.6,1123.11 L583.1,1122.91 L583.2,1122.90 L583.6,1123.00 L584.1,1123.37 L584.6,1123.99 L585.1,1124.80 L585.6,1125.71 L586.1,1126.65 L586.6,1127.56 L587.1,1128.37 L587.6,1129.07 L588.1,1129.63 L588.6,1130.06 L589.1,1130.38 L589.6,1130.61 L590.1,1130.76 L590.6,1130.86 L591.1,1130.92 L591.6,1130.95 L592.1,1130.96 L592.6,1130.96 L593.1,1130.95 L593.6,1130.92 L594.1,1130.87 L594.6,1130.79 L595.1,1130.67 L595.6,1130.51 L596.1,1130.29 L596.6,1130.02 L597.1,1129.69 L597.6,1129.32 L598.1,1128.92 L598.6,1128.51 L599.1,1128.14 L599.6,1127.83 L600.1,1127.61 L600.6,1127.51 L600.8,1127.50 L601.1,1127.53 L601.6,1127.68 L602.1,1127.94 L602.6,1128.28 L603.1,1128.67 L603.6,1129.08 L604.1,1129.47 L604.6,1129.83 L605.1,1130.14 L605.6,1130.39 L606.1,1130.58 L606.6,1130.72 L607.1,1130.82 L607.6,1130.89 L608.1,1130.94 L608.6,1130.96 L609.1,1130.98 L609.6,1130.99 L610.1,1130.99 L610.6,1130.99 L611.1,1130.99 L611.6,1130.99 L612.1,1130.98 L612.6,1130.96 L613.1,1130.94 L613.6,1130.89 L614.1,1130.82 L614.6,1130.71 L615.1,1130.55 L615.6,1130.33 L616.1,1130.04 L616.6,1129.67 L617.1,1129.23 L617.6,1128.72 L618.1,1128.17 L618.6,1127.63 L619.1,1127.12 L619.6,1126.69 L620.1,1126.40 L620.6,1126.26 L620.8,1126.25 L621.1,1126.29 L621.6,1126.50 L622.1,1126.85 L622.6,1127.31 L623.1,1127.84 L623.6,1128.40 L624.1,1128.93 L624.6,1129.41 L625.1,1129.83 L625.6,1130.17 L626.1,1130.43 L626.6,1130.62 L627.1,1130.76 L627.6,1130.85 L628.1,1130.91 L628.6,1130.95 L629.1,1130.97 L629.6,1130.98 L630.1,1130.99 L630.6,1130.99 L631.1,1130.99 L631.6,1130.98 L632.1,1130.97 L632.6,1130.96 L633.1,1130.93 L633.6,1130.89 L634.1,1130.83 L634.6,1130.75 L635.1,1130.64 L635.6,1130.51 L636.1,1130.36 L636.6,1130.19 L637.1,1130.02 L637.6,1129.85 L638.1,1129.70 L638.6,1129.59 L639.1,1129.52 L639.5,1129.50 L639.6,1129.50 L640.1,1129.54 L640.6,1129.63 L641.1,1129.76 L641.6,1129.92 L642.1,1130.09 L642.6,1130.26 L643.1,1130.42 L643.6,1130.57 L644.1,1130.69 L644.6,1130.78 L645.1,1130.85 L645.6,1130.90 L646.1,1130.94 L646.6,1130.96 L647.1,1130.97 L647.6,1130.96 L648.1,1130.83 L648.6,1130.30 L649.1,1128.59 L649.6,1124.19 L650.1,1114.96 L650.6,1099.05 L651.1,1076.37 L651.6,1049.50 L652.1,1023.09 L652.6,1001.90 L653.1,988.67 L653.6,983.20 L654.0,982.50 L654.1,982.52 L654.6,984.60 L655.1,992.97 L655.6,1009.57 L656.1,1033.48 L656.6,1061.11 L657.1,1087.69 L657.6,1109.33 L658.1,1124.27 L658.6,1132.78 L659.0,1135.84 L659.1,1136.20 L659.6,1136.25 L660.1,1134.60 L660.6,1132.57 L661.1,1130.87 L661.6,1129.61 L662.1,1128.62 L662.6,1127.73 L663.1,1126.89 L663.6,1126.11 L664.1,1125.50 L664.6,1125.11 L665.0,1125.00 L665.1,1125.00 L665.6,1125.19 L666.1,1125.63 L666.6,1126.23 L667.1,1126.89 L667.6,1127.48 L668.1,1127.91 L668.6,1128.09 L669.1,1127.98 L669.6,1127.61 L670.1,1127.02 L670.6,1126.30 L671.1,1125.58 L671.6,1124.97 L672.1,1124.59 L672.5,1124.50 L672.6,1124.51 L673.1,1124.75 L673.6,1125.28 L674.1,1126.02 L674.6,1126.89 L675.1,1127.78 L675.6,1128.60 L676.1,1129.30 L676.6,1129.86 L677.1,1130.27 L677.6,1130.56 L678.1,1130.75 L678.6,1130.86 L679.1,1130.93 L679.6,1130.96 L680.1,1130.98 L680.6,1130.99 L681.1,1131.00 L681.6,1131.00 L682.1,1131.00 L682.6,1131.00 L683.1,1131.00 L683.6,1131.00 L684.1,1131.00 L684.6,1131.00 L685.1,1131.00 L685.6,1131.00 L686.1,1131.00 L686.6,1131.00 L687.1,1131.00 L687.6,1131.00 L688.1,1131.00 L688.6,1131.00 L689.1,1131.00 L689.6,1131.00 L690.1,1131.00 L690.6,1131.00 L691.1,1131.00 L691.6,1131.00 L692.1,1131.00 L692.6,1131.00 L693.1,1131.00 L693.6,1131.00 L694.1,1131.00 L694.6,1131.00 L695.1,1131.00 L695.6,1131.00 L696.1,1131.00 L696.6,1131.00 L697.1,1131.00 L697.6,1131.00 L698.1,1131.00 L698.6,1131.00 L699.1,1131.00 L699.6,1131.00 L700.1,1131.00 L700.6,1131.00 L701.1,1131.00 L701.6,1131.00 L702.1,1131.00 L702.6,1131.00 L703.1,1131.00 L703.6,1131.00 L704.1,1131.00 L704.6,1131.00 L705.1,1131.00 L705.6,1131.00 L706.1,1131.00 L706.6,1131.00 L707.1,1131.00 L707.6,1131.00 L708.1,1131.00 L708.6,1131.00 L709.1,1131.00 L709.6,1131.00 L710.1,1131.00 L710.6,1131.00 L711.1,1131.00 L711.6,1131.00 L712.1,1131.00 L712.6,1131.00 L713.1,1131.00 L713.6,1131.00 L714.1,1131.00 L714.6,1130.98 L715.1,1130.93 L715.6,1130.72 L716.1,1130.12 L716.6,1128.73 L717.1,1126.10 L717.6,1121.98 L718.1,1116.62 L718.6,1110.83 L719.1,1105.67 L719.6,1101.99 L720.1,1100.05 L720.6,1099.51 L720.8,1099.50 L721.1,1099.60 L721.6,1100.63 L722.1,1103.26 L722.6,1107.64 L723.1,1113.25 L723.6,1119.17 L724.1,1124.41 L724.6,1128.32 L725.1,1130.74 L725.5,1131.80 L725.6,1131.87 L726.1,1132.10 L726.6,1131.87 L727.1,1131.53 L727.6,1131.25 L728.1,1131.10 L728.6,1131.03 L729.1,1131.01 L729.6,1131.00 L730.1,1130.99 L730.6,1130.98 L731.1,1130.95 L731.6,1130.92 L732.1,1130.85 L732.6,1130.75 L733.1,1130.59 L733.6,1130.35 L734.1,1130.02 L734.6,1129.56 L735.1,1128.97 L735.6,1128.24 L736.1,1127.39 L736.6,1126.44 L737.1,1125.45 L737.6,1124.49 L738.1,1123.65 L738.6,1122.99 L739.1,1122.60 L739.5,1122.50 L739.6,1122.51 L740.1,1122.72 L740.6,1123.23 L741.1,1123.97 L741.6,1124.87 L742.1,1125.84 L742.6,1126.82 L743.1,1127.74 L743.6,1128.54 L744.1,1129.15 L744.6,1129.47 L745.1,1129.17 L745.6,1127.64 L746.1,1124.02 L746.6,1117.56 L747.1,1108.26 L747.6,1097.18 L748.1,1086.28 L748.6,1077.52 L749.1,1072.05 L749.6,1069.79 L750.0,1069.50 L750.1,1069.51 L750.6,1070.37 L751.1,1073.84 L751.6,1080.73 L752.1,1090.67 L752.6,1102.18 L753.1,1113.30 L753.6,1122.35 L754.1,1128.54 L754.6,1131.93 L754.8,1132.63 L755.1,1133.15 L755.6,1133.05 L756.1,1132.40 L756.6,1131.75 L757.1,1131.32 L757.6,1131.11 L758.1,1131.03 L758.6,1131.01 L759.1,1131.00 L759.6,1131.00 L760.1,1131.00 L760.6,1130.97 L761.1,1130.82 L761.6,1130.25 L762.1,1128.43 L762.6,1123.73 L763.1,1113.88 L763.6,1096.90 L764.1,1072.69 L764.6,1044.01 L765.1,1015.82 L765.6,993.20 L766.1,979.09 L766.6,973.25 L767.0,972.50 L767.1,972.52 L767.6,974.74 L768.1,983.66 L768.6,1001.35 L769.1,1026.75 L769.6,1055.94 L770.1,1083.64 L770.6,1105.61 L771.1,1120.19 L771.6,1128.19 L772.0,1131.20 L772.1,1131.63 L772.6,1132.50 L773.1,1132.27 L773.6,1131.76 L774.1,1131.36 L774.6,1131.14 L775.1,1131.04 L775.6,1131.01 L776.1,1131.00 L776.6,1131.00 L777.1,1131.00 L777.6,1131.00 L778.1,1131.00 L778.6,1131.00 L779.1,1131.00 L779.6,1131.00 L780.1,1131.00 L780.6,1131.00 L781.1,1131.00 L781.6,1131.00 L782.1,1131.00 L782.6,1131.00 L783.1,1131.00 L783.6,1131.00 L784.1,1131.00 L784.6,1131.00 L785.1,1131.00 L785.6,1131.00 L786.1,1131.00 L786.6,1131.00 L787.1,1131.00 L787.6,1131.00 L788.1,1130.99 L788.6,1130.93 L789.1,1130.69 L789.6,1129.94 L790.1,1128.00 L790.6,1123.92 L791.1,1116.91 L791.6,1106.90 L792.1,1095.05 L792.6,1083.40 L793.1,1074.06 L793.6,1068.22 L794.1,1065.81 L794.5,1065.50 L794.6,1065.51 L795.1,1066.43 L795.6,1070.12 L796.1,1077.46 L796.6,1088.04 L797.1,1100.31 L797.6,1112.15 L798.1,1121.79 L798.6,1128.38 L799.1,1131.99 L799.3,1132.74 L799.6,1133.29 L800.1,1133.17 L800.6,1132.47 L801.1,1131.76 L801.6,1131.27 L802.1,1130.98 L802.6,1130.79 L803.1,1130.60 L803.6,1130.33 L804.1,1129.94 L804.6,1129.39 L805.1,1128.65 L805.6,1127.69 L806.1,1126.49 L806.6,1125.10 L807.1,1123.55 L807.6,1121.93 L808.1,1120.36 L808.6,1118.97 L809.1,1117.89 L809.6,1117.21 L810.0,1117.00 L810.1,1117.00 L810.6,1117.26 L811.1,1117.94 L811.6,1118.94 L812.1,1120.11 L812.6,1121.31 L813.1,1122.41 L813.6,1123.30 L814.1,1123.94 L814.6,1124.32 L815.1,1124.49 L815.6,1124.51 L816.1,1124.50 L816.6,1124.53 L817.0,1124.64 L817.1,1124.68 L817.6,1124.99 L818.1,1125.45 L818.6,1126.06 L819.1,1126.76 L819.6,1127.50 L820.1,1128.22 L820.6,1128.87 L821.1,1129.44 L821.6,1129.90 L822.1,1130.25 L822.6,1130.51 L823.1,1130.69 L823.6,1130.82 L824.1,1130.89 L824.6,1130.94 L825.1,1130.97 L825.6,1130.98 L826.1,1130.99 L826.6,1131.00 L827.1,1131.00 L827.6,1131.00 L828.1,1131.00 L828.6,1131.00 L829.1,1131.00 L829.6,1131.00 L830.1,1130.99 L830.6,1130.92 L831.1,1130.67 L831.6,1129.87 L832.1,1127.80 L832.6,1123.46 L833.1,1115.99 L833.6,1105.34 L834.1,1092.72 L834.6,1080.31 L835.1,1070.36 L835.6,1064.15 L836.1,1061.58 L836.5,1061.25 L836.6,1061.26 L837.1,1062.24 L837.6,1066.17 L838.1,1073.98 L838.6,1085.25 L839.1,1098.32 L839.6,1110.92 L840.1,1121.19 L840.6,1128.21 L841.1,1132.06 L841.3,1132.85 L841.6,1133.44 L842.1,1133.32 L842.6,1132.58 L843.1,1131.85 L843.6,1131.37 L844.1,1131.13 L844.6,1131.03 L845.1,1130.98 L845.6,1130.90 L846.1,1130.62 L846.6,1129.88 L847.1,1128.27 L847.6,1125.38 L848.1,1121.11 L848.6,1115.85 L849.1,1110.49 L849.6,1105.99 L850.1,1103.02 L850.6,1101.66 L851.1,1101.40 L851.6,1101.66 L852.1,1103.03 L852.6,1106.01 L853.1,1110.54 L853.6,1116.01 L854.1,1121.47 L854.6,1126.08 L855.1,1129.34 L855.6,1131.23 L855.9,1131.80 L856.1,1132.00 L856.6,1132.04 L857.1,1131.75 L857.6,1131.42 L858.1,1131.19 L858.6,1131.07 L859.1,1131.02 L859.6,1131.00 L860.1,1131.00 L860.6,1131.00 L861.1,1131.00 L861.6,1131.00 L862.1,1131.00 L862.6,1131.00 L863.1,1131.00 L863.6,1131.00 L864.1,1131.00 L864.6,1131.00 L865.1,1131.00 L865.6,1131.00 L866.1,1131.00 L866.6,1131.00 L867.1,1130.99 L867.6,1130.98 L868.1,1130.96 L868.6,1130.93 L869.1,1130.87 L869.6,1130.78 L870.1,1130.62 L870.6,1130.39 L871.1,1130.06 L871.6,1129.59 L872.1,1128.97 L872.6,1128.18 L873.1,1127.22 L873.6,1126.12 L874.1,1124.93 L874.6,1123.73 L875.1,1122.60 L875.6,1121.65 L876.1,1120.97 L876.6,1120.63 L876.8,1120.60 L877.1,1120.67 L877.6,1121.08 L878.1,1121.82 L878.6,1122.82 L879.1,1123.97 L879.6,1125.18 L880.1,1126.35 L880.6,1127.43 L881.1,1128.35 L881.6,1129.11 L882.1,1129.70 L882.6,1130.14 L883.1,1130.45 L883.6,1130.66 L884.1,1130.80 L884.6,1130.89 L885.1,1130.95 L885.6,1130.99 L886.1,1131.02 L886.6,1131.05 L887.1,1131.08 L887.6,1131.12 L888.1,1131.16 L888.6,1131.21 L889.1,1131.26 L889.6,1131.32 L890.1,1131.37 L890.6,1131.41 L891.1,1131.44 L891.6,1131.45 L891.8,1131.45 L892.1,1131.45 L892.6,1131.43 L893.1,1131.40 L893.6,1131.36 L894.1,1131.31 L894.6,1131.25 L895.1,1131.20 L895.6,1131.16 L896.1,1131.12 L896.6,1131.08 L897.1,1131.06 L897.6,1131.04 L898.1,1131.02 L898.6,1131.01 L899.1,1131.01 L899.6,1131.01 L900.1,1131.00 L900.6,1131.00 L901.1,1131.00 L901.6,1131.00 L902.1,1131.00 L902.6,1131.00 L903.1,1131.00 L903.6,1131.00 L904.1,1131.00 L904.6,1131.00 L905.1,1131.00 L905.6,1131.00 L906.1,1131.00 L906.6,1130.99 L907.1,1130.98 L907.6,1130.97 L908.1,1130.95 L908.6,1130.92 L909.1,1130.87 L909.6,1130.79 L910.1,1130.69 L910.6,1130.56 L911.1,1130.39 L911.6,1130.19 L912.1,1129.97 L912.6,1129.73 L913.1,1129.48 L913.6,1129.26 L914.1,1129.08 L914.6,1128.96 L915.1,1128.90 L915.2,1128.90 L915.6,1128.92 L916.1,1129.02 L916.6,1129.18 L917.1,1129.39 L917.6,1129.63 L918.1,1129.87 L918.6,1130.11 L919.1,1130.32 L919.6,1130.50 L920.1,1130.64 L920.6,1130.76 L921.1,1130.84 L921.6,1130.90 L922.1,1130.94 L922.6,1130.96 L923.1,1130.98 L923.6,1130.99 L924.1,1130.99 L924.6,1131.00 L925.1,1131.00 L925.6,1131.00 L926.1,1131.00 L926.6,1131.00 L927.1,1131.00 L927.6,1131.00 L928.1,1131.00 L928.6,1130.98 L929.1,1130.91 L929.6,1130.68 L930.1,1130.02 L930.6,1128.53 L931.1,1125.74 L931.6,1121.46 L932.1,1115.99 L932.6,1110.20 L933.1,1105.15 L933.6,1101.62 L934.1,1099.85 L934.6,1099.40 L934.7,1099.40 L935.1,1099.55 L935.6,1100.72 L936.1,1103.54 L936.6,1108.08 L937.1,1113.79 L937.6,1119.70 L938.1,1124.85 L938.6,1128.63 L939.1,1130.91 L939.5,1131.82 L939.6,1131.94 L940.1,1132.11 L940.6,1131.85 L941.1,1131.50 L941.6,1131.23 L942.1,1131.09 L942.6,1131.03 L943.1,1131.01 L943.6,1131.00 L944.1,1131.00 L944.6,1131.00 L945.1,1131.00 L945.6,1131.00 L946.1,1131.00 L946.6,1131.00 L947.1,1131.00 L947.6,1131.00 L948.1,1131.00 L948.6,1131.00 L949.1,1131.00 L949.6,1131.00 L950.1,1131.00 L950.6,1131.00 L951.1,1131.00 L951.6,1131.00 L952.1,1131.00 L952.6,1131.00 L953.1,1131.00 L953.6,1131.00 L954.1,1131.00 L954.6,1131.00 L955.1,1131.00 L955.6,1131.00 L956.1,1131.00 L956.6,1131.00 L957.1,1131.00 L957.6,1131.00 L958.1,1131.00 L958.6,1131.00 L959.1,1131.00 L959.6,1131.00 L960.1,1131.00 L960.6,1131.00 L961.1,1131.00 L961.6,1131.00 L962.1,1131.00 L962.6,1131.00 L963.1,1131.00 L963.6,1131.00 L964.1,1131.00 L964.6,1130.99 L965.1,1130.98 L965.6,1130.97 L966.1,1130.94 L966.6,1130.90 L967.1,1130.82 L967.6,1130.72 L968.1,1130.57 L968.6,1130.38 L969.1,1130.15 L969.6,1129.90 L970.1,1129.64 L970.6,1129.40 L971.1,1129.22 L971.6,1129.12 L971.9,1129.10 L972.1,1129.11 L972.6,1129.19 L973.1,1129.36 L973.6,1129.59 L974.1,1129.85 L974.6,1130.11 L975.1,1130.34 L975.6,1130.54 L976.1,1130.69 L976.6,1130.81 L977.1,1130.88 L977.6,1130.93 L978.1,1130.96 L978.6,1130.98 L979.1,1130.99 L979.6,1131.00 L980.1,1131.00 L980.6,1131.00 L981.1,1131.00 L981.6,1131.00 L982.1,1131.00 L982.6,1131.00 L983.1,1131.00 L983.6,1131.00 L984.1,1131.00 L984.6,1131.00 L985.1,1131.00 L985.6,1131.00 L986.1,1131.00 L986.6,1131.00 L987.1,1131.00 L987.6,1131.00 L988.1,1131.00 L988.6,1131.00 L989.1,1131.00 L989.6,1131.00 L990.1,1131.00 L990.6,1131.00 L991.1,1131.00 L991.6,1131.00 L992.1,1131.00 L992.6,1131.00 L993.1,1131.00 L993.6,1131.00 L994.1,1131.00 L994.6,1131.00 L995.1,1131.00 L995.6,1131.00 L996.1,1131.00 L996.6,1131.00 L997.1,1131.00 L997.6,1131.00 L998.1,1131.00 L998.6,1131.00 L999.1,1131.00 L999.6,1130.99 L1000.1,1130.97 L1000.6,1130.93 L1001.1,1130.84 L1001.6,1130.66 L1002.1,1130.34 L1002.6,1129.79 L1003.1,1128.99 L1003.6,1127.93 L1004.1,1126.69 L1004.6,1125.47 L1005.1,1124.48 L1005.6,1123.95 L1005.8,1123.90" fill="none" stroke="#604A7B" stroke-width="5.0" stroke-linejoin="round" stroke-linecap="butt"/>
<line x1="84.6" y1="27.6" x2="84.6" y2="1176" stroke="#868686" stroke-width="2.7"/>
<line x1="83.3" y1="1162.5" x2="1005" y2="1162.5" stroke="#868686" stroke-width="2.7"/>
<line x1="346.6" y1="1162.5" x2="346.6" y2="1176" stroke="#868686" stroke-width="2.7"/>
<line x1="610.75" y1="1162.5" x2="610.75" y2="1176" stroke="#868686" stroke-width="2.7"/>
<line x1="872.65" y1="1162.5" x2="872.65" y2="1176" stroke="#868686" stroke-width="2.7"/>
<text x="83.3" y="1221" font-family="&quot;Liberation Serif&quot;, serif" font-size="40" text-anchor="middle" transform="translate(83.3,0) scale(0.92,1) translate(-83.3,0)">5</text>
<text x="336.5" y="1221" font-family="&quot;Liberation Serif&quot;, serif" font-size="40" text-anchor="middle" transform="translate(336.5,0) scale(0.68,1) translate(-336.5,0)">1</text>
<text x="355.9" y="1221" font-family="&quot;Liberation Serif&quot;, serif" font-size="40" text-anchor="middle" transform="translate(355.9,0) scale(0.92,1) translate(-355.9,0)">5</text>
<text x="599.15" y="1221" font-family="&quot;Liberation Serif&quot;, serif" font-size="40" text-anchor="middle" transform="translate(599.15,0) scale(0.98,1) translate(-599.15,0)">2</text>
<text x="618.35" y="1221" font-family="&quot;Liberation Serif&quot;, serif" font-size="40" text-anchor="middle" transform="translate(618.35,0) scale(0.92,1) translate(-618.35,0)">5</text>
<text x="862.25" y="1221" font-family="&quot;Liberation Serif&quot;, serif" font-size="40" text-anchor="middle" transform="translate(862.25,0) scale(0.92,1) translate(-862.25,0)">3</text>
<text x="881.6" y="1221" font-family="&quot;Liberation Serif&quot;, serif" font-size="40" text-anchor="middle" transform="translate(881.6,0) scale(0.92,1) translate(-881.6,0)">5</text>
<text x="828.3" y="229" font-family="&quot;Liberation Serif&quot;, serif" font-size="44" letter-spacing="-1.6">CuX-B3</text>
<text x="826.6" y="467.2" font-family="&quot;Liberation Serif&quot;, serif" font-size="44" letter-spacing="-1.3">CuX-B2</text>
<text x="835.8" y="699.3" font-family="&quot;Liberation Serif&quot;, serif" font-size="44" letter-spacing="-1.85">CuX-B1</text>
<text x="853" y="1030.3" font-family="&quot;Liberation Serif&quot;, serif" font-size="44">NaX</text>
<text x="497.5" y="1279.6" font-family="&quot;Liberation Serif&quot;, serif" font-size="40" font-weight="bold">2θ</text>
<text x="0" y="0" font-family="&quot;Liberation Serif&quot;, serif" font-size="40" transform="translate(547.3,1279.6) scale(0.97,1)">(°)</text>
<text x="0" y="0" font-family="&quot;Liberation Serif&quot;, serif" font-size="39.5" font-weight="bold" transform="translate(44.7,600.2) rotate(-90)">Intensity (a.u.)</text>
</svg></body></html>
